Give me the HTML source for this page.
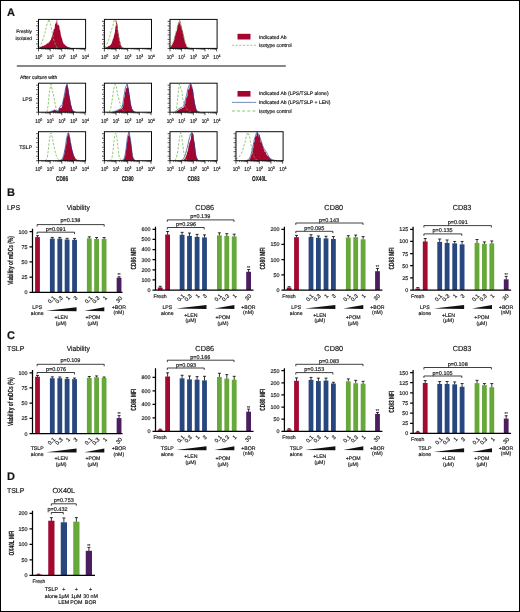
<!DOCTYPE html>
<html><head><meta charset="utf-8"><title>Figure</title>
<style>
html,body{margin:0;padding:0;background:#fff}
body{width:520px;height:612px;overflow:hidden;position:relative}
svg{position:absolute;left:0;top:0;display:block}
svg{will-change:transform;transform:translateZ(0)}
svg text{font-family:"Liberation Sans",Arial,Helvetica,sans-serif;fill:#141414;stroke:#141414;stroke-width:0.16px;text-rendering:geometricPrecision}
.frame{position:absolute;left:0;top:0;width:518px;height:610px;border:1px solid #000}
</style></head><body>
<svg width="520" height="612" viewBox="0 0 520 612">
<rect x="0" y="0" width="520" height="612" fill="#fff"/>
<path d="M38.5 48.4 L38.5 48.11 L38.92 47.87 L39.35 47.62 L39.77 47.46 L40.19 47.04 L40.62 46.8 L41.04 46.78 L41.47 46.53 L41.89 46.38 L42.31 46.11 L42.74 45.87 L43.16 46.08 L43.58 45.96 L44.01 45.3 L44.43 45.39 L44.85 44.99 L45.28 45.33 L45.7 44.71 L46.13 44.18 L46.55 44.35 L46.97 43.35 L47.4 43.08 L47.82 43.76 L48.24 43.51 L48.67 42.6 L49.09 41.78 L49.51 41.9 L49.94 41.32 L50.36 40.13 L50.79 40.07 L51.21 38.86 L51.63 37.14 L52.06 35.55 L52.48 34.93 L52.9 33.54 L53.33 32.06 L53.75 29.54 L54.17 28.81 L54.6 29.04 L55.02 23.98 L55.45 24.27 L55.87 22.3 L56.29 23.39 L56.72 19.8 L57.14 20.11 L57.56 25.24 L57.99 25.05 L58.41 24.3 L58.83 25.68 L59.26 25.99 L59.68 30.01 L60.11 30.26 L60.53 32.74 L60.95 35.86 L61.38 37.06 L61.8 37.98 L62.22 39.42 L62.65 41.31 L63.07 42.3 L63.49 43.57 L63.92 43.9 L64.34 43.96 L64.77 44.84 L65.19 45.33 L65.61 45.39 L66.04 45.63 L66.46 45.99 L66.88 46.46 L67.31 46.75 L67.73 46.89 L68.15 46.94 L68.58 47.14 L69 47.3 L69.43 47.4 L69.85 47.61 L70.27 47.65 L70.7 47.77 L71.12 47.9 L71.54 48.02 L71.97 48.07 L72.39 48.11 L72.81 48.15 L73.24 48.19 L73.66 48.23 L74.09 48.27 L74.51 48.31 L74.93 48.35 L75.36 48.39 L75.78 48.4 L76.2 48.4 L76.63 48.4 L77.05 48.4 L77.47 48.4 L77.9 48.4 L78.32 48.4 L78.75 48.4 L79.17 48.4 L79.59 48.4 L80.02 48.4 L80.44 48.4 L80.86 48.4 L81.29 48.4 L81.71 48.4 L82.13 48.4 L82.56 48.4 L82.98 48.4 L83.41 48.4 L83.83 48.4 L84.25 48.4 L84.68 48.4 L85.1 48.4 L85.6 48.4 Z" fill="#A50630"/>
<polyline points="38.5,47.53 38.92,47.13 39.35,46.66 39.77,46.32 40.19,45.84 40.62,45.51 41.04,44.71 41.47,43.37 41.89,42.45 42.31,41.12 42.74,40.03 43.16,38.87 43.58,37.67 44.01,36.41 44.43,34.26 44.85,33.24 45.28,31.47 45.7,30.04 46.13,28.05 46.55,26.16 46.97,23.84 47.4,23.42 47.82,22.68 48.24,21.3 48.67,19.5 49.09,20.92 49.51,20.87 49.94,22.12 50.36,23.16 50.79,25.7 51.21,27.32 51.63,29.64 52.06,31.57 52.48,33.46 52.9,35.82 53.33,38.18 53.75,40.05 54.17,40.89 54.6,42.33 55.02,43.66 55.45,44.68 55.87,45.56 56.29,46.34 56.72,47.15 57.14,48.1" fill="none" stroke="#74B94E" stroke-width="0.8" stroke-dasharray="2.4 1.5" stroke-linejoin="round"/>
<rect x="38.5" y="19.4" width="47.1" height="29" fill="none" stroke="#0a0a0a" stroke-width="1"/>
<path d="M38.5 48.4h-2.4M38.5 43.9h-2.4M38.5 39.4h-2.4M38.5 34.9h-2.4M38.5 30.4h-2.4M38.5 25.9h-2.4M38.5 21.4h-2.4M38.5 48.4v3M50.15 48.4v3M61.8 48.4v3M73.45 48.4v3M85.1 48.4v3" stroke="#0a0a0a" stroke-width="0.7" fill="none"/>
<path d="M38.5 46.15h-1.4M38.5 41.65h-1.4M38.5 37.15h-1.4M38.5 32.65h-1.4M38.5 28.15h-1.4M38.5 23.65h-1.4M42.01 48.4v1.4M44.06 48.4v1.4M45.51 48.4v1.4M46.64 48.4v1.4M47.57 48.4v1.4M48.35 48.4v1.4M49.02 48.4v1.4M49.62 48.4v1.4M53.66 48.4v1.4M55.71 48.4v1.4M57.16 48.4v1.4M58.29 48.4v1.4M59.22 48.4v1.4M60 48.4v1.4M60.67 48.4v1.4M61.27 48.4v1.4M65.31 48.4v1.4M67.36 48.4v1.4M68.81 48.4v1.4M69.94 48.4v1.4M70.87 48.4v1.4M71.65 48.4v1.4M72.32 48.4v1.4M72.92 48.4v1.4M76.96 48.4v1.4M79.01 48.4v1.4M80.46 48.4v1.4M81.59 48.4v1.4M82.52 48.4v1.4M83.3 48.4v1.4M83.97 48.4v1.4M84.57 48.4v1.4" stroke="#0a0a0a" stroke-width="0.5" fill="none"/>
<text x="35.2" y="58.8" font-size="5.5" stroke="#141414" stroke-width="0.32" textLength="5.3" lengthAdjust="spacingAndGlyphs">10</text>
<text x="40.3" y="56.8" font-size="3.8" stroke="#141414" stroke-width="0.25" textLength="2.0" lengthAdjust="spacingAndGlyphs">0</text>
<text x="46.85" y="58.8" font-size="5.5" stroke="#141414" stroke-width="0.32" textLength="5.3" lengthAdjust="spacingAndGlyphs">10</text>
<text x="51.95" y="56.8" font-size="3.8" stroke="#141414" stroke-width="0.25" textLength="2.0" lengthAdjust="spacingAndGlyphs">1</text>
<text x="58.5" y="58.8" font-size="5.5" stroke="#141414" stroke-width="0.32" textLength="5.3" lengthAdjust="spacingAndGlyphs">10</text>
<text x="63.6" y="56.8" font-size="3.8" stroke="#141414" stroke-width="0.25" textLength="2.0" lengthAdjust="spacingAndGlyphs">2</text>
<text x="70.15" y="58.8" font-size="5.5" stroke="#141414" stroke-width="0.32" textLength="5.3" lengthAdjust="spacingAndGlyphs">10</text>
<text x="75.25" y="56.8" font-size="3.8" stroke="#141414" stroke-width="0.25" textLength="2.0" lengthAdjust="spacingAndGlyphs">3</text>
<text x="81.8" y="58.8" font-size="5.5" stroke="#141414" stroke-width="0.32" textLength="5.3" lengthAdjust="spacingAndGlyphs">10</text>
<text x="86.9" y="56.8" font-size="3.8" stroke="#141414" stroke-width="0.25" textLength="2.0" lengthAdjust="spacingAndGlyphs">4</text>
<path d="M104.4 48.4 L104.4 48.11 L104.82 47.95 L105.25 47.78 L105.67 47.62 L106.09 47.36 L106.52 47.18 L106.94 47.23 L107.37 47.02 L107.79 46.52 L108.21 46.32 L108.64 46.11 L109.06 46.07 L109.48 45.68 L109.91 45.44 L110.33 45.12 L110.75 44.82 L111.18 43.95 L111.6 43.35 L112.03 42.29 L112.45 40.78 L112.87 39.27 L113.3 38.55 L113.72 36.89 L114.14 35.16 L114.57 33.81 L114.99 31.6 L115.41 27.29 L115.84 25.54 L116.26 22.76 L116.69 19.8 L117.11 23.16 L117.53 24.96 L117.96 29.21 L118.38 32.9 L118.8 34.58 L119.23 37.7 L119.65 39.49 L120.07 40.91 L120.5 43.31 L120.92 45.56 L121.35 45.81 L121.77 46.58 L122.19 47.31 L122.62 47.59 L123.04 47.67 L123.46 47.74 L123.89 47.81 L124.31 47.88 L124.73 47.95 L125.16 48.02 L125.58 48.09 L126.01 48.13 L126.43 48.16 L126.85 48.19 L127.28 48.22 L127.7 48.25 L128.12 48.28 L128.55 48.31 L128.97 48.34 L129.39 48.37 L129.82 48.4 L130.24 48.4 L130.67 48.4 L131.09 48.4 L131.51 48.4 L131.94 48.4 L132.36 48.4 L132.78 48.4 L133.21 48.4 L133.63 48.4 L134.05 48.4 L134.48 48.4 L134.9 48.4 L135.33 48.4 L135.75 48.4 L136.17 48.4 L136.6 48.4 L137.02 48.4 L137.44 48.4 L137.87 48.4 L138.29 48.4 L138.71 48.4 L139.14 48.4 L139.56 48.4 L139.99 48.4 L140.41 48.4 L140.83 48.4 L141.26 48.4 L141.68 48.4 L142.1 48.4 L142.53 48.4 L142.95 48.4 L143.37 48.4 L143.8 48.4 L144.22 48.4 L144.65 48.4 L145.07 48.4 L145.49 48.4 L145.92 48.4 L146.34 48.4 L146.76 48.4 L147.19 48.4 L147.61 48.4 L148.03 48.4 L148.46 48.4 L148.88 48.4 L149.31 48.4 L149.73 48.4 L150.15 48.4 L150.58 48.4 L151 48.4 L151.5 48.4 Z" fill="#A50630"/>
<polyline points="105.25,48.1 105.67,46.75 106.09,45.91 106.52,45.11 106.94,44.05 107.37,43.22 107.79,42 108.21,40.75 108.64,40.06 109.06,38.45 109.48,36.89 109.91,35.8 110.33,34.04 110.75,32.24 111.18,30.99 111.6,29.19 112.03,28.36 112.45,26.79 112.87,25.59 113.3,23.68 113.72,21.67 114.14,20.81 114.57,19.73 114.99,20.73 115.41,20.48 115.84,22.91 116.26,24.16 116.69,25.18 117.11,27.05 117.53,29.59 117.96,32.08 118.38,34.25 118.8,36.79 119.23,39.24 119.65,41.54 120.07,44.04 120.5,44.93 120.92,46 121.35,47.11 121.77,48.1" fill="none" stroke="#74B94E" stroke-width="0.8" stroke-dasharray="2.4 1.5" stroke-linejoin="round"/>
<rect x="104.4" y="19.4" width="47.1" height="29" fill="none" stroke="#0a0a0a" stroke-width="1"/>
<path d="M104.4 48.4h-2.4M104.4 43.9h-2.4M104.4 39.4h-2.4M104.4 34.9h-2.4M104.4 30.4h-2.4M104.4 25.9h-2.4M104.4 21.4h-2.4M104.4 48.4v3M116.05 48.4v3M127.7 48.4v3M139.35 48.4v3M151 48.4v3" stroke="#0a0a0a" stroke-width="0.7" fill="none"/>
<path d="M104.4 46.15h-1.4M104.4 41.65h-1.4M104.4 37.15h-1.4M104.4 32.65h-1.4M104.4 28.15h-1.4M104.4 23.65h-1.4M107.91 48.4v1.4M109.96 48.4v1.4M111.41 48.4v1.4M112.54 48.4v1.4M113.47 48.4v1.4M114.25 48.4v1.4M114.92 48.4v1.4M115.52 48.4v1.4M119.56 48.4v1.4M121.61 48.4v1.4M123.06 48.4v1.4M124.19 48.4v1.4M125.12 48.4v1.4M125.9 48.4v1.4M126.57 48.4v1.4M127.17 48.4v1.4M131.21 48.4v1.4M133.26 48.4v1.4M134.71 48.4v1.4M135.84 48.4v1.4M136.77 48.4v1.4M137.55 48.4v1.4M138.22 48.4v1.4M138.82 48.4v1.4M142.86 48.4v1.4M144.91 48.4v1.4M146.36 48.4v1.4M147.49 48.4v1.4M148.42 48.4v1.4M149.2 48.4v1.4M149.87 48.4v1.4M150.47 48.4v1.4" stroke="#0a0a0a" stroke-width="0.5" fill="none"/>
<text x="101.1" y="58.8" font-size="5.5" stroke="#141414" stroke-width="0.32" textLength="5.3" lengthAdjust="spacingAndGlyphs">10</text>
<text x="106.2" y="56.8" font-size="3.8" stroke="#141414" stroke-width="0.25" textLength="2.0" lengthAdjust="spacingAndGlyphs">0</text>
<text x="112.75" y="58.8" font-size="5.5" stroke="#141414" stroke-width="0.32" textLength="5.3" lengthAdjust="spacingAndGlyphs">10</text>
<text x="117.85" y="56.8" font-size="3.8" stroke="#141414" stroke-width="0.25" textLength="2.0" lengthAdjust="spacingAndGlyphs">1</text>
<text x="124.4" y="58.8" font-size="5.5" stroke="#141414" stroke-width="0.32" textLength="5.3" lengthAdjust="spacingAndGlyphs">10</text>
<text x="129.5" y="56.8" font-size="3.8" stroke="#141414" stroke-width="0.25" textLength="2.0" lengthAdjust="spacingAndGlyphs">2</text>
<text x="136.05" y="58.8" font-size="5.5" stroke="#141414" stroke-width="0.32" textLength="5.3" lengthAdjust="spacingAndGlyphs">10</text>
<text x="141.15" y="56.8" font-size="3.8" stroke="#141414" stroke-width="0.25" textLength="2.0" lengthAdjust="spacingAndGlyphs">3</text>
<text x="147.7" y="58.8" font-size="5.5" stroke="#141414" stroke-width="0.32" textLength="5.3" lengthAdjust="spacingAndGlyphs">10</text>
<text x="152.8" y="56.8" font-size="3.8" stroke="#141414" stroke-width="0.25" textLength="2.0" lengthAdjust="spacingAndGlyphs">4</text>
<path d="M170 48.4 L170 47.83 L170.42 47.32 L170.85 46.66 L171.27 46.17 L171.69 45.3 L172.12 44.47 L172.54 44.23 L172.97 43.57 L173.39 41.7 L173.81 41.1 L174.24 39.76 L174.66 36.59 L175.08 36.32 L175.51 33.61 L175.93 33.1 L176.35 30.89 L176.78 31.24 L177.2 27.67 L177.63 24.97 L178.05 25.06 L178.47 22.38 L178.9 21.71 L179.32 24.23 L179.74 19.8 L180.17 21.42 L180.59 24.6 L181.01 27.47 L181.44 25.26 L181.86 29.01 L182.29 29.97 L182.71 31.31 L183.13 33.73 L183.56 35.03 L183.98 38.18 L184.4 39.1 L184.83 41.51 L185.25 42.66 L185.67 43.86 L186.1 45.37 L186.52 46.13 L186.95 46.89 L187.37 46.99 L187.79 47.45 L188.22 47.76 L188.64 48.09 L189.06 48.15 L189.49 48.19 L189.91 48.23 L190.33 48.27 L190.76 48.31 L191.18 48.36 L191.61 48.4 L192.03 48.4 L192.45 48.4 L192.88 48.4 L193.3 48.4 L193.72 48.4 L194.15 48.4 L194.57 48.4 L194.99 48.4 L195.42 48.4 L195.84 48.4 L196.27 48.4 L196.69 48.4 L197.11 48.4 L197.54 48.4 L197.96 48.4 L198.38 48.4 L198.81 48.4 L199.23 48.4 L199.65 48.4 L200.08 48.4 L200.5 48.4 L200.93 48.4 L201.35 48.4 L201.77 48.4 L202.2 48.4 L202.62 48.4 L203.04 48.4 L203.47 48.4 L203.89 48.4 L204.31 48.4 L204.74 48.4 L205.16 48.4 L205.59 48.4 L206.01 48.4 L206.43 48.4 L206.86 48.4 L207.28 48.4 L207.7 48.4 L208.13 48.4 L208.55 48.4 L208.97 48.4 L209.4 48.4 L209.82 48.4 L210.25 48.4 L210.67 48.4 L211.09 48.4 L211.52 48.4 L211.94 48.4 L212.36 48.4 L212.79 48.4 L213.21 48.4 L213.63 48.4 L214.06 48.4 L214.48 48.4 L214.91 48.4 L215.33 48.4 L215.75 48.4 L216.18 48.4 L216.6 48.4 L217.1 48.4 Z" fill="#A50630"/>
<polyline points="170,47.09 170.42,46.53 170.85,45.94 171.27,45.42 171.69,44.58 172.12,43.77 172.54,43.01 172.97,42.39 173.39,41.43 173.81,40.05 174.24,38.64 174.66,36.72 175.08,35.14 175.51,34.29 175.93,31.95 176.35,30.57 176.78,29.21 177.2,27.8 177.63,25.76 178.05,24.51 178.47,22.69 178.9,21.7 179.32,21.53 179.74,19.5 180.17,20.44 180.59,22.07 181.01,24.18 181.44,26.85 181.86,28.76 182.29,30.48 182.71,31.46 183.13,33.84 183.56,35.54 183.98,36.95 184.4,39.05 184.83,40.67 185.25,42.45 185.67,43.6 186.1,44.32 186.52,45.14 186.95,46.11 187.37,46.42 187.79,46.72 188.22,47.06 188.64,47.36 189.06,47.42 189.49,47.46 189.91,47.5 190.33,47.54 190.76,47.59 191.18,47.63 191.61,47.67 192.03,48.1" fill="none" stroke="#74B94E" stroke-width="0.8" stroke-dasharray="2.4 1.5" stroke-linejoin="round"/>
<rect x="170" y="19.4" width="47.1" height="29" fill="none" stroke="#0a0a0a" stroke-width="1"/>
<path d="M170 48.4h-2.4M170 43.9h-2.4M170 39.4h-2.4M170 34.9h-2.4M170 30.4h-2.4M170 25.9h-2.4M170 21.4h-2.4M170 48.4v3M181.65 48.4v3M193.3 48.4v3M204.95 48.4v3M216.6 48.4v3" stroke="#0a0a0a" stroke-width="0.7" fill="none"/>
<path d="M170 46.15h-1.4M170 41.65h-1.4M170 37.15h-1.4M170 32.65h-1.4M170 28.15h-1.4M170 23.65h-1.4M173.51 48.4v1.4M175.56 48.4v1.4M177.01 48.4v1.4M178.14 48.4v1.4M179.07 48.4v1.4M179.85 48.4v1.4M180.52 48.4v1.4M181.12 48.4v1.4M185.16 48.4v1.4M187.21 48.4v1.4M188.66 48.4v1.4M189.79 48.4v1.4M190.72 48.4v1.4M191.5 48.4v1.4M192.17 48.4v1.4M192.77 48.4v1.4M196.81 48.4v1.4M198.86 48.4v1.4M200.31 48.4v1.4M201.44 48.4v1.4M202.37 48.4v1.4M203.15 48.4v1.4M203.82 48.4v1.4M204.42 48.4v1.4M208.46 48.4v1.4M210.51 48.4v1.4M211.96 48.4v1.4M213.09 48.4v1.4M214.02 48.4v1.4M214.8 48.4v1.4M215.47 48.4v1.4M216.07 48.4v1.4" stroke="#0a0a0a" stroke-width="0.5" fill="none"/>
<text x="166.7" y="58.8" font-size="5.5" stroke="#141414" stroke-width="0.32" textLength="5.3" lengthAdjust="spacingAndGlyphs">10</text>
<text x="171.8" y="56.8" font-size="3.8" stroke="#141414" stroke-width="0.25" textLength="2.0" lengthAdjust="spacingAndGlyphs">0</text>
<text x="178.35" y="58.8" font-size="5.5" stroke="#141414" stroke-width="0.32" textLength="5.3" lengthAdjust="spacingAndGlyphs">10</text>
<text x="183.45" y="56.8" font-size="3.8" stroke="#141414" stroke-width="0.25" textLength="2.0" lengthAdjust="spacingAndGlyphs">1</text>
<text x="190" y="58.8" font-size="5.5" stroke="#141414" stroke-width="0.32" textLength="5.3" lengthAdjust="spacingAndGlyphs">10</text>
<text x="195.1" y="56.8" font-size="3.8" stroke="#141414" stroke-width="0.25" textLength="2.0" lengthAdjust="spacingAndGlyphs">2</text>
<text x="201.65" y="58.8" font-size="5.5" stroke="#141414" stroke-width="0.32" textLength="5.3" lengthAdjust="spacingAndGlyphs">10</text>
<text x="206.75" y="56.8" font-size="3.8" stroke="#141414" stroke-width="0.25" textLength="2.0" lengthAdjust="spacingAndGlyphs">3</text>
<text x="213.3" y="58.8" font-size="5.5" stroke="#141414" stroke-width="0.32" textLength="5.3" lengthAdjust="spacingAndGlyphs">10</text>
<text x="218.4" y="56.8" font-size="3.8" stroke="#141414" stroke-width="0.25" textLength="2.0" lengthAdjust="spacingAndGlyphs">4</text>
<path d="M38.5 112.2 L38.5 112.2 L38.92 112.2 L39.35 112.2 L39.77 112.2 L40.19 112.2 L40.62 112.2 L41.04 112.2 L41.47 112.2 L41.89 112.2 L42.31 112.2 L42.74 112.2 L43.16 112.2 L43.58 112.2 L44.01 112.2 L44.43 112.2 L44.85 112.2 L45.28 112.2 L45.7 112.2 L46.13 112.2 L46.55 112.2 L46.97 112.2 L47.4 112.2 L47.82 112.2 L48.24 112.2 L48.67 112.2 L49.09 112.2 L49.51 112.2 L49.94 112.2 L50.36 112.07 L50.79 111.87 L51.21 111.68 L51.63 111.48 L52.06 111.33 L52.48 111.18 L52.9 110.92 L53.33 110.81 L53.75 110.67 L54.17 110.37 L54.6 109.95 L55.02 110.08 L55.45 110.3 L55.87 110.69 L56.29 110.76 L56.72 111.02 L57.14 111.14 L57.56 111.25 L57.99 111.31 L58.41 111.15 L58.83 109.91 L59.26 108.66 L59.68 107.85 L60.11 108.21 L60.53 107.92 L60.95 107.59 L61.38 107.71 L61.8 107.83 L62.22 105.91 L62.65 104.8 L63.07 101.77 L63.49 99.62 L63.92 98.13 L64.34 97.22 L64.77 93.91 L65.19 93.39 L65.61 87.14 L66.04 85.53 L66.46 85.43 L66.88 85.28 L67.31 83.6 L67.73 87.26 L68.15 87.55 L68.58 90.13 L69 93.94 L69.43 96.55 L69.85 98.23 L70.27 100.98 L70.7 103.76 L71.12 105.4 L71.54 106.31 L71.97 108.68 L72.39 109.87 L72.81 110.17 L73.24 110.89 L73.66 111.37 L74.09 111.55 L74.51 111.73 L74.93 111.91 L75.36 112.09 L75.78 112.2 L76.2 112.2 L76.63 112.2 L77.05 112.2 L77.47 112.2 L77.9 112.2 L78.32 112.2 L78.75 112.2 L79.17 112.2 L79.59 112.2 L80.02 112.2 L80.44 112.2 L80.86 112.2 L81.29 112.2 L81.71 112.2 L82.13 112.2 L82.56 112.2 L82.98 112.2 L83.41 112.2 L83.83 112.2 L84.25 112.2 L84.68 112.2 L85.1 112.2 L85.6 112.2 Z" fill="#A50630"/>
<polyline points="49.51,112 49.94,111.98 50.36,111.79 50.79,111.59 51.21,111.39 51.63,111.19 52.06,111.01 52.48,110.82 52.9,110.6 53.33,110.46 53.75,110.23 54.17,110.07 54.6,109.96 55.02,110.09 55.45,110.33 55.87,110.47 56.29,110.69 56.72,110.83 57.14,110.91 57.56,110.98 57.99,111.11 58.41,110.58 58.83,109.36 59.26,108.1 59.68,107.42 60.11,106.8 60.53,105.92 60.95,106.16 61.38,105.86 61.8,105.82 62.22,104.53 62.65,103.14 63.07,101.14 63.49,98.84 63.92,97.44 64.34,94.86 64.77,92.5 65.19,90.55 65.61,88.43 66.04,87.56 66.46,86.01 66.88,84.36 67.31,86.04 67.73,88.88 68.15,91.33 68.58,93.28 69,95.7 69.43,98.1 69.85,100 70.27,102.37 70.7,104.73 71.12,106.18 71.54,107.8 71.97,109.25 72.39,109.89 72.81,110.54 73.24,111.1 73.66,111.32 74.09,111.5 74.51,111.68 74.93,111.86 75.36,112 75.78,112" fill="none" stroke="#1D3A8E" stroke-width="0.7" stroke-linejoin="round"/>
<polyline points="46.55,111.9 46.97,111.47 47.4,109.34 47.82,107.18 48.24,104.46 48.67,100.15 49.09,95.85 49.51,92.23 49.94,89.25 50.36,86.47 50.79,84.3 51.21,84.33 51.63,87.4 52.06,89.34 52.48,92.37 52.9,92.28 53.33,94.02 53.75,97.1 54.17,98.47 54.6,100.7 55.02,103.07 55.45,105.03 55.87,107.11 56.29,108.81 56.72,109.51 57.14,110.36 57.56,111.11 57.99,111.9" fill="none" stroke="#74B94E" stroke-width="0.8" stroke-dasharray="2.4 1.5" stroke-linejoin="round"/>
<rect x="38.5" y="83.2" width="47.1" height="29" fill="none" stroke="#0a0a0a" stroke-width="1"/>
<path d="M38.5 112.2h-2.4M38.5 107.7h-2.4M38.5 103.2h-2.4M38.5 98.7h-2.4M38.5 94.2h-2.4M38.5 89.7h-2.4M38.5 85.2h-2.4M38.5 112.2v3M50.15 112.2v3M61.8 112.2v3M73.45 112.2v3M85.1 112.2v3" stroke="#0a0a0a" stroke-width="0.7" fill="none"/>
<path d="M38.5 109.95h-1.4M38.5 105.45h-1.4M38.5 100.95h-1.4M38.5 96.45h-1.4M38.5 91.95h-1.4M38.5 87.45h-1.4M42.01 112.2v1.4M44.06 112.2v1.4M45.51 112.2v1.4M46.64 112.2v1.4M47.57 112.2v1.4M48.35 112.2v1.4M49.02 112.2v1.4M49.62 112.2v1.4M53.66 112.2v1.4M55.71 112.2v1.4M57.16 112.2v1.4M58.29 112.2v1.4M59.22 112.2v1.4M60 112.2v1.4M60.67 112.2v1.4M61.27 112.2v1.4M65.31 112.2v1.4M67.36 112.2v1.4M68.81 112.2v1.4M69.94 112.2v1.4M70.87 112.2v1.4M71.65 112.2v1.4M72.32 112.2v1.4M72.92 112.2v1.4M76.96 112.2v1.4M79.01 112.2v1.4M80.46 112.2v1.4M81.59 112.2v1.4M82.52 112.2v1.4M83.3 112.2v1.4M83.97 112.2v1.4M84.57 112.2v1.4" stroke="#0a0a0a" stroke-width="0.5" fill="none"/>
<text x="35.2" y="122.6" font-size="5.5" stroke="#141414" stroke-width="0.32" textLength="5.3" lengthAdjust="spacingAndGlyphs">10</text>
<text x="40.3" y="120.6" font-size="3.8" stroke="#141414" stroke-width="0.25" textLength="2.0" lengthAdjust="spacingAndGlyphs">0</text>
<text x="46.85" y="122.6" font-size="5.5" stroke="#141414" stroke-width="0.32" textLength="5.3" lengthAdjust="spacingAndGlyphs">10</text>
<text x="51.95" y="120.6" font-size="3.8" stroke="#141414" stroke-width="0.25" textLength="2.0" lengthAdjust="spacingAndGlyphs">1</text>
<text x="58.5" y="122.6" font-size="5.5" stroke="#141414" stroke-width="0.32" textLength="5.3" lengthAdjust="spacingAndGlyphs">10</text>
<text x="63.6" y="120.6" font-size="3.8" stroke="#141414" stroke-width="0.25" textLength="2.0" lengthAdjust="spacingAndGlyphs">2</text>
<text x="70.15" y="122.6" font-size="5.5" stroke="#141414" stroke-width="0.32" textLength="5.3" lengthAdjust="spacingAndGlyphs">10</text>
<text x="75.25" y="120.6" font-size="3.8" stroke="#141414" stroke-width="0.25" textLength="2.0" lengthAdjust="spacingAndGlyphs">3</text>
<text x="81.8" y="122.6" font-size="5.5" stroke="#141414" stroke-width="0.32" textLength="5.3" lengthAdjust="spacingAndGlyphs">10</text>
<text x="86.9" y="120.6" font-size="3.8" stroke="#141414" stroke-width="0.25" textLength="2.0" lengthAdjust="spacingAndGlyphs">4</text>
<path d="M104.4 112.2 L104.4 112.2 L104.82 112.2 L105.25 112.2 L105.67 112.2 L106.09 112.2 L106.52 112.2 L106.94 112.2 L107.37 112.2 L107.79 112.2 L108.21 112.2 L108.64 112.2 L109.06 112.2 L109.48 112.2 L109.91 112.2 L110.33 112.2 L110.75 112.2 L111.18 112.2 L111.6 112.2 L112.03 112.2 L112.45 112.2 L112.87 112.2 L113.3 112.19 L113.72 112.03 L114.14 111.87 L114.57 111.73 L114.99 111.58 L115.41 111.44 L115.84 111.27 L116.26 111.09 L116.69 110.93 L117.11 110.68 L117.53 110.53 L117.96 110.25 L118.38 110.42 L118.8 110.03 L119.23 109.58 L119.65 109.53 L120.07 109.19 L120.5 109.51 L120.92 109.1 L121.35 109.08 L121.77 108.4 L122.19 107.81 L122.62 107.85 L123.04 106.32 L123.46 104.07 L123.89 100.19 L124.31 97.44 L124.73 96.58 L125.16 91.59 L125.58 92.29 L126.01 87.67 L126.43 88.58 L126.85 88.12 L127.28 83.6 L127.7 87.45 L128.12 88.94 L128.55 86.97 L128.97 90.24 L129.39 95.24 L129.82 95.7 L130.24 100.26 L130.67 103.06 L131.09 105.74 L131.51 106.69 L131.94 108.78 L132.36 109.24 L132.78 109.94 L133.21 110.78 L133.63 111.34 L134.05 111.51 L134.48 111.69 L134.9 111.88 L135.33 112.06 L135.75 112.2 L136.17 112.2 L136.6 112.2 L137.02 112.2 L137.44 112.2 L137.87 112.2 L138.29 112.2 L138.71 112.2 L139.14 112.2 L139.56 112.2 L139.99 112.2 L140.41 112.2 L140.83 112.2 L141.26 112.2 L141.68 112.2 L142.1 112.2 L142.53 112.2 L142.95 112.2 L143.37 112.2 L143.8 112.2 L144.22 112.2 L144.65 112.2 L145.07 112.2 L145.49 112.2 L145.92 112.2 L146.34 112.2 L146.76 112.2 L147.19 112.2 L147.61 112.2 L148.03 112.2 L148.46 112.2 L148.88 112.2 L149.31 112.2 L149.73 112.2 L150.15 112.2 L150.58 112.2 L151 112.2 L151.5 112.2 Z" fill="#A50630"/>
<polyline points="112.45,112 112.87,111.93 113.3,111.77 113.72,111.62 114.14,111.47 114.57,111.33 114.99,111.19 115.41,111.06 115.84,110.87 116.26,110.77 116.69,110.53 117.11,110.38 117.53,110.17 117.96,109.88 118.38,109.78 118.8,109.51 119.23,109.36 119.65,109.18 120.07,108.99 120.5,108.87 120.92,108.51 121.35,108.12 121.77,107.55 122.19,107.07 122.62,104.97 123.04,102.65 123.46,99.61 123.89,97.06 124.31,94.5 124.73,92.09 125.16,88.85 125.58,87.88 126.01,86 126.43,85.55 126.85,84.25 127.28,84.28 127.7,86.07 128.12,88.76 128.55,91.08 128.97,93.34 129.39,96.39 129.82,99.88 130.24,102.99 130.67,104.56 131.09,106.65 131.51,108.6 131.94,109.14 132.36,109.8 132.78,110.39 133.21,110.99 133.63,111.28 134.05,111.46 134.48,111.64 134.9,111.82 135.33,112 135.75,112" fill="none" stroke="#1D3A8E" stroke-width="0.7" stroke-linejoin="round"/>
<polyline points="109.06,111.9 109.48,111.71 109.91,110.6 110.33,109.47 110.75,108.14 111.18,105.82 111.6,103.44 112.03,100.63 112.45,97.87 112.87,94.5 113.3,91.88 113.72,89.51 114.14,87.1 114.57,84.98 114.99,84.83 115.41,84.3 115.84,85.97 116.26,86.06 116.69,89.56 117.11,90.9 117.53,94.01 117.96,95.57 118.38,97.66 118.8,99.01 119.23,100.12 119.65,102.04 120.07,103.33 120.5,104.26 120.92,105.72 121.35,107.1 121.77,108.13 122.19,109 122.62,109.83 123.04,110.48 123.46,110.85 123.89,111.05 124.31,111.25 124.73,111.47 125.16,111.9 125.58,111.9" fill="none" stroke="#74B94E" stroke-width="0.8" stroke-dasharray="2.4 1.5" stroke-linejoin="round"/>
<rect x="104.4" y="83.2" width="47.1" height="29" fill="none" stroke="#0a0a0a" stroke-width="1"/>
<path d="M104.4 112.2h-2.4M104.4 107.7h-2.4M104.4 103.2h-2.4M104.4 98.7h-2.4M104.4 94.2h-2.4M104.4 89.7h-2.4M104.4 85.2h-2.4M104.4 112.2v3M116.05 112.2v3M127.7 112.2v3M139.35 112.2v3M151 112.2v3" stroke="#0a0a0a" stroke-width="0.7" fill="none"/>
<path d="M104.4 109.95h-1.4M104.4 105.45h-1.4M104.4 100.95h-1.4M104.4 96.45h-1.4M104.4 91.95h-1.4M104.4 87.45h-1.4M107.91 112.2v1.4M109.96 112.2v1.4M111.41 112.2v1.4M112.54 112.2v1.4M113.47 112.2v1.4M114.25 112.2v1.4M114.92 112.2v1.4M115.52 112.2v1.4M119.56 112.2v1.4M121.61 112.2v1.4M123.06 112.2v1.4M124.19 112.2v1.4M125.12 112.2v1.4M125.9 112.2v1.4M126.57 112.2v1.4M127.17 112.2v1.4M131.21 112.2v1.4M133.26 112.2v1.4M134.71 112.2v1.4M135.84 112.2v1.4M136.77 112.2v1.4M137.55 112.2v1.4M138.22 112.2v1.4M138.82 112.2v1.4M142.86 112.2v1.4M144.91 112.2v1.4M146.36 112.2v1.4M147.49 112.2v1.4M148.42 112.2v1.4M149.2 112.2v1.4M149.87 112.2v1.4M150.47 112.2v1.4" stroke="#0a0a0a" stroke-width="0.5" fill="none"/>
<text x="101.1" y="122.6" font-size="5.5" stroke="#141414" stroke-width="0.32" textLength="5.3" lengthAdjust="spacingAndGlyphs">10</text>
<text x="106.2" y="120.6" font-size="3.8" stroke="#141414" stroke-width="0.25" textLength="2.0" lengthAdjust="spacingAndGlyphs">0</text>
<text x="112.75" y="122.6" font-size="5.5" stroke="#141414" stroke-width="0.32" textLength="5.3" lengthAdjust="spacingAndGlyphs">10</text>
<text x="117.85" y="120.6" font-size="3.8" stroke="#141414" stroke-width="0.25" textLength="2.0" lengthAdjust="spacingAndGlyphs">1</text>
<text x="124.4" y="122.6" font-size="5.5" stroke="#141414" stroke-width="0.32" textLength="5.3" lengthAdjust="spacingAndGlyphs">10</text>
<text x="129.5" y="120.6" font-size="3.8" stroke="#141414" stroke-width="0.25" textLength="2.0" lengthAdjust="spacingAndGlyphs">2</text>
<text x="136.05" y="122.6" font-size="5.5" stroke="#141414" stroke-width="0.32" textLength="5.3" lengthAdjust="spacingAndGlyphs">10</text>
<text x="141.15" y="120.6" font-size="3.8" stroke="#141414" stroke-width="0.25" textLength="2.0" lengthAdjust="spacingAndGlyphs">3</text>
<text x="147.7" y="122.6" font-size="5.5" stroke="#141414" stroke-width="0.32" textLength="5.3" lengthAdjust="spacingAndGlyphs">10</text>
<text x="152.8" y="120.6" font-size="3.8" stroke="#141414" stroke-width="0.25" textLength="2.0" lengthAdjust="spacingAndGlyphs">4</text>
<path d="M170 112.2 L170 112.2 L170.42 112.2 L170.85 112.2 L171.27 112.2 L171.69 112.2 L172.12 112.2 L172.54 112.2 L172.97 112.2 L173.39 112.2 L173.81 112.2 L174.24 112.2 L174.66 112.2 L175.08 112.2 L175.51 112.2 L175.93 112.04 L176.35 111.74 L176.78 111.36 L177.2 110.91 L177.63 110.5 L178.05 110.24 L178.47 110.06 L178.9 109.97 L179.32 109.36 L179.74 109.24 L180.17 108.8 L180.59 108.89 L181.01 108.44 L181.44 108.7 L181.86 108.13 L182.29 108.05 L182.71 108.07 L183.13 107.63 L183.56 107.16 L183.98 107 L184.4 105.55 L184.83 104.12 L185.25 103.89 L185.67 101.04 L186.1 99.55 L186.52 97.31 L186.95 97.1 L187.37 96.27 L187.79 91.59 L188.22 89.58 L188.64 89.39 L189.06 89.45 L189.49 87.67 L189.91 84.19 L190.33 85.38 L190.76 83.6 L191.18 84.63 L191.61 87.53 L192.03 86.34 L192.45 89.45 L192.88 88.74 L193.3 91.83 L193.72 96.19 L194.15 98.51 L194.57 101.13 L194.99 103.73 L195.42 105.49 L195.84 108.1 L196.27 109.21 L196.69 110.21 L197.11 110.78 L197.54 111.16 L197.96 111.65 L198.38 111.94 L198.81 112.01 L199.23 112.08 L199.65 112.15 L200.08 112.2 L200.5 112.2 L200.93 112.2 L201.35 112.2 L201.77 112.2 L202.2 112.2 L202.62 112.2 L203.04 112.2 L203.47 112.2 L203.89 112.2 L204.31 112.2 L204.74 112.2 L205.16 112.2 L205.59 112.2 L206.01 112.2 L206.43 112.2 L206.86 112.2 L207.28 112.2 L207.7 112.2 L208.13 112.2 L208.55 112.2 L208.97 112.2 L209.4 112.2 L209.82 112.2 L210.25 112.2 L210.67 112.2 L211.09 112.2 L211.52 112.2 L211.94 112.2 L212.36 112.2 L212.79 112.2 L213.21 112.2 L213.63 112.2 L214.06 112.2 L214.48 112.2 L214.91 112.2 L215.33 112.2 L215.75 112.2 L216.18 112.2 L216.6 112.2 L217.1 112.2 Z" fill="#A50630"/>
<polyline points="174.66,112 175.08,111.99 175.51,111.75 175.93,111.3 176.35,110.81 176.78,110.32 177.2,109.86 177.63,109.26 178.05,109.16 178.47,108.84 178.9,108.52 179.32,108.45 179.74,108.11 180.17,107.94 180.59,107.95 181.01,107.73 181.44,107.51 181.86,107.44 182.29,107.03 182.71,106.89 183.13,106.55 183.56,105.63 183.98,104.47 184.4,103.26 184.83,101.98 185.25,100.14 185.67,98.74 186.1,96.68 186.52,95.48 186.95,93.48 187.37,91.2 187.79,89.22 188.22,87.75 188.64,86.39 189.06,85.52 189.49,85.06 189.91,84.4 190.33,83.4 190.76,84.68 191.18,84.45 191.61,86 192.03,88.75 192.45,90.44 192.88,93.02 193.3,96.21 193.72,98.48 194.15,100.82 194.57,103.95 194.99,105.47 195.42,107.11 195.84,108.48 196.27,109.53 196.69,110.23 197.11,110.85 197.54,111.42 197.96,111.75 198.38,111.82 198.81,111.88 199.23,111.95 199.65,112 200.08,112" fill="none" stroke="#1D3A8E" stroke-width="0.7" stroke-linejoin="round"/>
<polyline points="175.08,111.9 175.51,111.9 175.93,110.56 176.35,108.8 176.78,107.08 177.2,103.28 177.63,99.44 178.05,94.8 178.47,90.14 178.9,87.36 179.32,84.01 179.74,85.29 180.17,85.39 180.59,87.7 181.01,89.62 181.44,90.39 181.86,90.84 182.29,94.95 182.71,98.3 183.13,100.05 183.56,102.06 183.98,103.28 184.4,104.82 184.83,105.66 185.25,106.5 185.67,107.36 186.1,108.16 186.52,108.77 186.95,109.28 187.37,109.62 187.79,110.09 188.22,110.48 188.64,110.92 189.06,111.18 189.49,111.38 189.91,111.57 190.33,111.77 190.76,111.9 191.18,111.9" fill="none" stroke="#74B94E" stroke-width="0.8" stroke-dasharray="2.4 1.5" stroke-linejoin="round"/>
<rect x="170" y="83.2" width="47.1" height="29" fill="none" stroke="#0a0a0a" stroke-width="1"/>
<path d="M170 112.2h-2.4M170 107.7h-2.4M170 103.2h-2.4M170 98.7h-2.4M170 94.2h-2.4M170 89.7h-2.4M170 85.2h-2.4M170 112.2v3M181.65 112.2v3M193.3 112.2v3M204.95 112.2v3M216.6 112.2v3" stroke="#0a0a0a" stroke-width="0.7" fill="none"/>
<path d="M170 109.95h-1.4M170 105.45h-1.4M170 100.95h-1.4M170 96.45h-1.4M170 91.95h-1.4M170 87.45h-1.4M173.51 112.2v1.4M175.56 112.2v1.4M177.01 112.2v1.4M178.14 112.2v1.4M179.07 112.2v1.4M179.85 112.2v1.4M180.52 112.2v1.4M181.12 112.2v1.4M185.16 112.2v1.4M187.21 112.2v1.4M188.66 112.2v1.4M189.79 112.2v1.4M190.72 112.2v1.4M191.5 112.2v1.4M192.17 112.2v1.4M192.77 112.2v1.4M196.81 112.2v1.4M198.86 112.2v1.4M200.31 112.2v1.4M201.44 112.2v1.4M202.37 112.2v1.4M203.15 112.2v1.4M203.82 112.2v1.4M204.42 112.2v1.4M208.46 112.2v1.4M210.51 112.2v1.4M211.96 112.2v1.4M213.09 112.2v1.4M214.02 112.2v1.4M214.8 112.2v1.4M215.47 112.2v1.4M216.07 112.2v1.4" stroke="#0a0a0a" stroke-width="0.5" fill="none"/>
<text x="166.7" y="122.6" font-size="5.5" stroke="#141414" stroke-width="0.32" textLength="5.3" lengthAdjust="spacingAndGlyphs">10</text>
<text x="171.8" y="120.6" font-size="3.8" stroke="#141414" stroke-width="0.25" textLength="2.0" lengthAdjust="spacingAndGlyphs">0</text>
<text x="178.35" y="122.6" font-size="5.5" stroke="#141414" stroke-width="0.32" textLength="5.3" lengthAdjust="spacingAndGlyphs">10</text>
<text x="183.45" y="120.6" font-size="3.8" stroke="#141414" stroke-width="0.25" textLength="2.0" lengthAdjust="spacingAndGlyphs">1</text>
<text x="190" y="122.6" font-size="5.5" stroke="#141414" stroke-width="0.32" textLength="5.3" lengthAdjust="spacingAndGlyphs">10</text>
<text x="195.1" y="120.6" font-size="3.8" stroke="#141414" stroke-width="0.25" textLength="2.0" lengthAdjust="spacingAndGlyphs">2</text>
<text x="201.65" y="122.6" font-size="5.5" stroke="#141414" stroke-width="0.32" textLength="5.3" lengthAdjust="spacingAndGlyphs">10</text>
<text x="206.75" y="120.6" font-size="3.8" stroke="#141414" stroke-width="0.25" textLength="2.0" lengthAdjust="spacingAndGlyphs">3</text>
<text x="213.3" y="122.6" font-size="5.5" stroke="#141414" stroke-width="0.32" textLength="5.3" lengthAdjust="spacingAndGlyphs">10</text>
<text x="218.4" y="120.6" font-size="3.8" stroke="#141414" stroke-width="0.25" textLength="2.0" lengthAdjust="spacingAndGlyphs">4</text>
<path d="M38.5 160.7 L38.5 160.7 L38.92 160.7 L39.35 160.7 L39.77 160.7 L40.19 160.7 L40.62 160.7 L41.04 160.7 L41.47 160.7 L41.89 160.7 L42.31 160.7 L42.74 160.7 L43.16 160.7 L43.58 160.7 L44.01 160.7 L44.43 160.7 L44.85 160.7 L45.28 160.7 L45.7 160.7 L46.13 160.7 L46.55 160.7 L46.97 160.7 L47.4 160.7 L47.82 160.7 L48.24 160.7 L48.67 160.7 L49.09 160.7 L49.51 160.7 L49.94 160.7 L50.36 160.7 L50.79 160.7 L51.21 160.7 L51.63 160.7 L52.06 160.7 L52.48 160.7 L52.9 160.7 L53.33 160.7 L53.75 160.7 L54.17 160.7 L54.6 160.7 L55.02 160.7 L55.45 160.7 L55.87 160.7 L56.29 160.7 L56.72 160.7 L57.14 160.7 L57.56 160.7 L57.99 160.7 L58.41 160.7 L58.83 160.7 L59.26 160.7 L59.68 160.7 L60.11 160.7 L60.53 160.53 L60.95 160.3 L61.38 160.02 L61.8 159.77 L62.22 159.55 L62.65 159.12 L63.07 158.33 L63.49 156.67 L63.92 155.49 L64.34 154.16 L64.77 151.12 L65.19 150.02 L65.61 146.54 L66.04 145.16 L66.46 142.53 L66.88 138.57 L67.31 134.65 L67.73 136.75 L68.15 135.42 L68.58 132.81 L69 132.3 L69.43 135.71 L69.85 138.05 L70.27 137.54 L70.7 143.81 L71.12 142.67 L71.54 146.67 L71.97 148.98 L72.39 150.77 L72.81 152.07 L73.24 153.02 L73.66 155.31 L74.09 155.98 L74.51 157.12 L74.93 158.15 L75.36 158.56 L75.78 159.25 L76.2 159.64 L76.63 159.82 L77.05 159.99 L77.47 160.22 L77.9 160.42 L78.32 160.48 L78.75 160.54 L79.17 160.6 L79.59 160.66 L80.02 160.7 L80.44 160.7 L80.86 160.7 L81.29 160.7 L81.71 160.7 L82.13 160.7 L82.56 160.7 L82.98 160.7 L83.41 160.7 L83.83 160.7 L84.25 160.7 L84.68 160.7 L85.1 160.7 L85.6 160.7 Z" fill="#A50630"/>
<polyline points="59.68,160.5 60.11,160.5 60.53,160.33 60.95,160.02 61.38,159.55 61.8,159.1 62.22,158.62 62.65,158.2 63.07,156.96 63.49,155.55 63.92,154.22 64.34,152.56 64.77,150.06 65.19,147.89 65.61,145.51 66.04,141.98 66.46,139.05 66.88,137.77 67.31,134.79 67.73,133.37 68.15,132.92 68.58,133.28 69,136.05 69.43,138.57 69.85,140.5 70.27,142.61 70.7,145.12 71.12,146.56 71.54,148.32 71.97,150.22 72.39,152.27 72.81,153.94 73.24,155.08 73.66,156.17 74.09,156.89 74.51,157.53 74.93,158.02 75.36,158.45 75.78,158.95 76.2,159.37 76.63,159.82 77.05,160.22 77.47,160.28 77.9,160.34 78.32,160.39 78.75,160.45 79.17,160.5 79.59,160.5" fill="none" stroke="#1D3A8E" stroke-width="0.7" stroke-linejoin="round"/>
<polyline points="45.28,160.4 45.7,160.27 46.13,159.69 46.55,159.14 46.97,158.51 47.4,157.02 47.82,153.9 48.24,150.85 48.67,146.65 49.09,142.21 49.51,139.15 49.94,136.53 50.36,134.17 50.79,133.06 51.21,133.09 51.63,135.17 52.06,136.47 52.48,137.76 52.9,140.71 53.33,143.04 53.75,144.76 54.17,147.08 54.6,149.56 55.02,151.09 55.45,152.62 55.87,154.41 56.29,155.37 56.72,156.48 57.14,157.39 57.56,158.29 57.99,158.67 58.41,158.99 58.83,159.43 59.26,159.82 59.68,160 60.11,160.11 60.53,160.22 60.95,160.33 61.38,160.4 61.8,160.4" fill="none" stroke="#74B94E" stroke-width="0.8" stroke-dasharray="2.4 1.5" stroke-linejoin="round"/>
<rect x="38.5" y="131.7" width="47.1" height="29" fill="none" stroke="#0a0a0a" stroke-width="1"/>
<path d="M38.5 160.7h-2.4M38.5 156.2h-2.4M38.5 151.7h-2.4M38.5 147.2h-2.4M38.5 142.7h-2.4M38.5 138.2h-2.4M38.5 133.7h-2.4M38.5 160.7v3M50.15 160.7v3M61.8 160.7v3M73.45 160.7v3M85.1 160.7v3" stroke="#0a0a0a" stroke-width="0.7" fill="none"/>
<path d="M38.5 158.45h-1.4M38.5 153.95h-1.4M38.5 149.45h-1.4M38.5 144.95h-1.4M38.5 140.45h-1.4M38.5 135.95h-1.4M42.01 160.7v1.4M44.06 160.7v1.4M45.51 160.7v1.4M46.64 160.7v1.4M47.57 160.7v1.4M48.35 160.7v1.4M49.02 160.7v1.4M49.62 160.7v1.4M53.66 160.7v1.4M55.71 160.7v1.4M57.16 160.7v1.4M58.29 160.7v1.4M59.22 160.7v1.4M60 160.7v1.4M60.67 160.7v1.4M61.27 160.7v1.4M65.31 160.7v1.4M67.36 160.7v1.4M68.81 160.7v1.4M69.94 160.7v1.4M70.87 160.7v1.4M71.65 160.7v1.4M72.32 160.7v1.4M72.92 160.7v1.4M76.96 160.7v1.4M79.01 160.7v1.4M80.46 160.7v1.4M81.59 160.7v1.4M82.52 160.7v1.4M83.3 160.7v1.4M83.97 160.7v1.4M84.57 160.7v1.4" stroke="#0a0a0a" stroke-width="0.5" fill="none"/>
<text x="35.2" y="171.1" font-size="5.5" stroke="#141414" stroke-width="0.32" textLength="5.3" lengthAdjust="spacingAndGlyphs">10</text>
<text x="40.3" y="169.1" font-size="3.8" stroke="#141414" stroke-width="0.25" textLength="2.0" lengthAdjust="spacingAndGlyphs">0</text>
<text x="46.85" y="171.1" font-size="5.5" stroke="#141414" stroke-width="0.32" textLength="5.3" lengthAdjust="spacingAndGlyphs">10</text>
<text x="51.95" y="169.1" font-size="3.8" stroke="#141414" stroke-width="0.25" textLength="2.0" lengthAdjust="spacingAndGlyphs">1</text>
<text x="58.5" y="171.1" font-size="5.5" stroke="#141414" stroke-width="0.32" textLength="5.3" lengthAdjust="spacingAndGlyphs">10</text>
<text x="63.6" y="169.1" font-size="3.8" stroke="#141414" stroke-width="0.25" textLength="2.0" lengthAdjust="spacingAndGlyphs">2</text>
<text x="70.15" y="171.1" font-size="5.5" stroke="#141414" stroke-width="0.32" textLength="5.3" lengthAdjust="spacingAndGlyphs">10</text>
<text x="75.25" y="169.1" font-size="3.8" stroke="#141414" stroke-width="0.25" textLength="2.0" lengthAdjust="spacingAndGlyphs">3</text>
<text x="81.8" y="171.1" font-size="5.5" stroke="#141414" stroke-width="0.32" textLength="5.3" lengthAdjust="spacingAndGlyphs">10</text>
<text x="86.9" y="169.1" font-size="3.8" stroke="#141414" stroke-width="0.25" textLength="2.0" lengthAdjust="spacingAndGlyphs">4</text>
<path d="M104.4 160.7 L104.4 160.7 L104.82 160.7 L105.25 160.7 L105.67 160.7 L106.09 160.7 L106.52 160.7 L106.94 160.7 L107.37 160.7 L107.79 160.7 L108.21 160.7 L108.64 160.7 L109.06 160.7 L109.48 160.7 L109.91 160.7 L110.33 160.7 L110.75 160.7 L111.18 160.7 L111.6 160.7 L112.03 160.7 L112.45 160.7 L112.87 160.7 L113.3 160.7 L113.72 160.7 L114.14 160.7 L114.57 160.7 L114.99 160.7 L115.41 160.7 L115.84 160.7 L116.26 160.7 L116.69 160.7 L117.11 160.7 L117.53 160.7 L117.96 160.7 L118.38 160.7 L118.8 160.7 L119.23 160.7 L119.65 160.7 L120.07 160.7 L120.5 160.7 L120.92 160.7 L121.35 160.7 L121.77 160.7 L122.19 160.7 L122.62 160.6 L123.04 160.32 L123.46 159.88 L123.89 159.19 L124.31 158.99 L124.73 157.85 L125.16 156.51 L125.58 154.56 L126.01 150.34 L126.43 148.85 L126.85 144.14 L127.28 141.3 L127.7 138.27 L128.12 135.96 L128.55 135.83 L128.97 132.1 L129.39 136.3 L129.82 136.34 L130.24 139.85 L130.67 141.28 L131.09 144.02 L131.51 146.16 L131.94 151.08 L132.36 154.47 L132.78 157.16 L133.21 157.7 L133.63 158.99 L134.05 159.58 L134.48 160.08 L134.9 160.31 L135.33 160.53 L135.75 160.7 L136.17 160.7 L136.6 160.7 L137.02 160.7 L137.44 160.7 L137.87 160.7 L138.29 160.7 L138.71 160.7 L139.14 160.7 L139.56 160.7 L139.99 160.7 L140.41 160.7 L140.83 160.7 L141.26 160.7 L141.68 160.7 L142.1 160.7 L142.53 160.7 L142.95 160.7 L143.37 160.7 L143.8 160.7 L144.22 160.7 L144.65 160.7 L145.07 160.7 L145.49 160.7 L145.92 160.7 L146.34 160.7 L146.76 160.7 L147.19 160.7 L147.61 160.7 L148.03 160.7 L148.46 160.7 L148.88 160.7 L149.31 160.7 L149.73 160.7 L150.15 160.7 L150.58 160.7 L151 160.7 L151.5 160.7 Z" fill="#A50630"/>
<polyline points="121.77,160.5 122.19,160.5 122.62,160.27 123.04,159.79 123.46,159.23 123.89,158.65 124.31,158.03 124.73,156.46 125.16,154.56 125.58,152.33 126.01,149.27 126.43,145.72 126.85,142.08 127.28,138.33 127.7,136.98 128.12,134.6 128.55,133.88 128.97,131.97 129.39,133.41 129.82,136.31 130.24,137.83 130.67,141.01 131.09,145.06 131.51,148.79 131.94,152.19 132.36,155.25 132.78,157.14 133.21,158.02 133.63,158.79 134.05,159.52 134.48,159.82 134.9,160.13 135.33,160.44 135.75,160.5" fill="none" stroke="#1D3A8E" stroke-width="0.7" stroke-linejoin="round"/>
<polyline points="109.48,160.4 109.91,160.4 110.33,160.11 110.75,159.74 111.18,159.35 111.6,159.06 112.03,157.75 112.45,155.37 112.87,152.11 113.3,148.21 113.72,143.58 114.14,140.36 114.57,137.08 114.99,134.49 115.41,134.06 115.84,133.25 116.26,133.44 116.69,136.32 117.11,139.44 117.53,143.24 117.96,147.13 118.38,151.36 118.8,154.66 119.23,156.96 119.65,157.86 120.07,158.84 120.5,159.16 120.92,159.44 121.35,159.74 121.77,160.04 122.19,160.4" fill="none" stroke="#74B94E" stroke-width="0.8" stroke-dasharray="2.4 1.5" stroke-linejoin="round"/>
<rect x="104.4" y="131.7" width="47.1" height="29" fill="none" stroke="#0a0a0a" stroke-width="1"/>
<path d="M104.4 160.7h-2.4M104.4 156.2h-2.4M104.4 151.7h-2.4M104.4 147.2h-2.4M104.4 142.7h-2.4M104.4 138.2h-2.4M104.4 133.7h-2.4M104.4 160.7v3M116.05 160.7v3M127.7 160.7v3M139.35 160.7v3M151 160.7v3" stroke="#0a0a0a" stroke-width="0.7" fill="none"/>
<path d="M104.4 158.45h-1.4M104.4 153.95h-1.4M104.4 149.45h-1.4M104.4 144.95h-1.4M104.4 140.45h-1.4M104.4 135.95h-1.4M107.91 160.7v1.4M109.96 160.7v1.4M111.41 160.7v1.4M112.54 160.7v1.4M113.47 160.7v1.4M114.25 160.7v1.4M114.92 160.7v1.4M115.52 160.7v1.4M119.56 160.7v1.4M121.61 160.7v1.4M123.06 160.7v1.4M124.19 160.7v1.4M125.12 160.7v1.4M125.9 160.7v1.4M126.57 160.7v1.4M127.17 160.7v1.4M131.21 160.7v1.4M133.26 160.7v1.4M134.71 160.7v1.4M135.84 160.7v1.4M136.77 160.7v1.4M137.55 160.7v1.4M138.22 160.7v1.4M138.82 160.7v1.4M142.86 160.7v1.4M144.91 160.7v1.4M146.36 160.7v1.4M147.49 160.7v1.4M148.42 160.7v1.4M149.2 160.7v1.4M149.87 160.7v1.4M150.47 160.7v1.4" stroke="#0a0a0a" stroke-width="0.5" fill="none"/>
<text x="101.1" y="171.1" font-size="5.5" stroke="#141414" stroke-width="0.32" textLength="5.3" lengthAdjust="spacingAndGlyphs">10</text>
<text x="106.2" y="169.1" font-size="3.8" stroke="#141414" stroke-width="0.25" textLength="2.0" lengthAdjust="spacingAndGlyphs">0</text>
<text x="112.75" y="171.1" font-size="5.5" stroke="#141414" stroke-width="0.32" textLength="5.3" lengthAdjust="spacingAndGlyphs">10</text>
<text x="117.85" y="169.1" font-size="3.8" stroke="#141414" stroke-width="0.25" textLength="2.0" lengthAdjust="spacingAndGlyphs">1</text>
<text x="124.4" y="171.1" font-size="5.5" stroke="#141414" stroke-width="0.32" textLength="5.3" lengthAdjust="spacingAndGlyphs">10</text>
<text x="129.5" y="169.1" font-size="3.8" stroke="#141414" stroke-width="0.25" textLength="2.0" lengthAdjust="spacingAndGlyphs">2</text>
<text x="136.05" y="171.1" font-size="5.5" stroke="#141414" stroke-width="0.32" textLength="5.3" lengthAdjust="spacingAndGlyphs">10</text>
<text x="141.15" y="169.1" font-size="3.8" stroke="#141414" stroke-width="0.25" textLength="2.0" lengthAdjust="spacingAndGlyphs">3</text>
<text x="147.7" y="171.1" font-size="5.5" stroke="#141414" stroke-width="0.32" textLength="5.3" lengthAdjust="spacingAndGlyphs">10</text>
<text x="152.8" y="169.1" font-size="3.8" stroke="#141414" stroke-width="0.25" textLength="2.0" lengthAdjust="spacingAndGlyphs">4</text>
<path d="M170 160.7 L170 160.7 L170.42 160.7 L170.85 160.7 L171.27 160.7 L171.69 160.7 L172.12 160.7 L172.54 160.7 L172.97 160.7 L173.39 160.7 L173.81 160.7 L174.24 160.7 L174.66 160.7 L175.08 160.7 L175.51 160.7 L175.93 160.7 L176.35 160.7 L176.78 160.7 L177.2 160.7 L177.63 160.7 L178.05 160.7 L178.47 160.7 L178.9 160.7 L179.32 160.7 L179.74 160.7 L180.17 160.7 L180.59 160.7 L181.01 160.7 L181.44 160.7 L181.86 160.7 L182.29 160.66 L182.71 160.34 L183.13 160.06 L183.56 159.79 L183.98 159.53 L184.4 159.33 L184.83 158.44 L185.25 158.08 L185.67 156.91 L186.1 155.65 L186.52 155.23 L186.95 153.16 L187.37 151.58 L187.79 151.17 L188.22 148.68 L188.64 145.97 L189.06 144.9 L189.49 141.91 L189.91 142.36 L190.33 140.32 L190.76 139.43 L191.18 135.78 L191.61 132.1 L192.03 133.24 L192.45 132.1 L192.88 134.75 L193.3 133.89 L193.72 139.1 L194.15 141.01 L194.57 142.48 L194.99 145.67 L195.42 149.79 L195.84 153.27 L196.27 155.71 L196.69 157.41 L197.11 158.27 L197.54 159 L197.96 159.88 L198.38 160.13 L198.81 160.45 L199.23 160.7 L199.65 160.7 L200.08 160.7 L200.5 160.7 L200.93 160.7 L201.35 160.7 L201.77 160.7 L202.2 160.7 L202.62 160.7 L203.04 160.7 L203.47 160.7 L203.89 160.7 L204.31 160.7 L204.74 160.7 L205.16 160.7 L205.59 160.7 L206.01 160.7 L206.43 160.7 L206.86 160.7 L207.28 160.7 L207.7 160.7 L208.13 160.7 L208.55 160.7 L208.97 160.7 L209.4 160.7 L209.82 160.7 L210.25 160.7 L210.67 160.7 L211.09 160.7 L211.52 160.7 L211.94 160.7 L212.36 160.7 L212.79 160.7 L213.21 160.7 L213.63 160.7 L214.06 160.7 L214.48 160.7 L214.91 160.7 L215.33 160.7 L215.75 160.7 L216.18 160.7 L216.6 160.7 L217.1 160.7 Z" fill="#A50630"/>
<polyline points="181.01,160.5 181.44,160.31 181.86,159.97 182.29,159.62 182.71,159.27 183.13,158.92 183.56,158.61 183.98,157.8 184.4,156.89 184.83,156.08 185.25,154.84 185.67,153.43 186.1,152.03 186.52,150.5 186.95,148.67 187.37,147.32 187.79,145.32 188.22,143.67 188.64,140.93 189.06,140.01 189.49,137.38 189.91,136.8 190.33,134.27 190.76,134.28 191.18,133.8 191.61,132.7 192.03,133.68 192.45,133.24 192.88,134.16 193.3,137.66 193.72,141.2 194.15,143.39 194.57,146.74 194.99,150.47 195.42,153.17 195.84,156.14 196.27,157.1 196.69,158.01 197.11,159.02 197.54,159.51 197.96,159.92 198.38,160.32 198.81,160.5" fill="none" stroke="#1D3A8E" stroke-width="0.7" stroke-linejoin="round"/>
<polyline points="174.66,160.4 175.08,160.27 175.51,159.51 175.93,158.74 176.35,157.74 176.78,156.02 177.2,154.32 177.63,151.97 178.05,149.21 178.47,145.92 178.9,143.01 179.32,139.13 179.74,136.75 180.17,134.91 180.59,132.79 181.01,133.57 181.44,134.25 181.86,136.01 182.29,140.77 182.71,143.62 183.13,147.09 183.56,150.49 183.98,154.01 184.4,155.59 184.83,157.31 185.25,158.43 185.67,158.87 186.1,159.3 186.52,159.73 186.95,160.4 187.37,160.4" fill="none" stroke="#74B94E" stroke-width="0.8" stroke-dasharray="2.4 1.5" stroke-linejoin="round"/>
<rect x="170" y="131.7" width="47.1" height="29" fill="none" stroke="#0a0a0a" stroke-width="1"/>
<path d="M170 160.7h-2.4M170 156.2h-2.4M170 151.7h-2.4M170 147.2h-2.4M170 142.7h-2.4M170 138.2h-2.4M170 133.7h-2.4M170 160.7v3M181.65 160.7v3M193.3 160.7v3M204.95 160.7v3M216.6 160.7v3" stroke="#0a0a0a" stroke-width="0.7" fill="none"/>
<path d="M170 158.45h-1.4M170 153.95h-1.4M170 149.45h-1.4M170 144.95h-1.4M170 140.45h-1.4M170 135.95h-1.4M173.51 160.7v1.4M175.56 160.7v1.4M177.01 160.7v1.4M178.14 160.7v1.4M179.07 160.7v1.4M179.85 160.7v1.4M180.52 160.7v1.4M181.12 160.7v1.4M185.16 160.7v1.4M187.21 160.7v1.4M188.66 160.7v1.4M189.79 160.7v1.4M190.72 160.7v1.4M191.5 160.7v1.4M192.17 160.7v1.4M192.77 160.7v1.4M196.81 160.7v1.4M198.86 160.7v1.4M200.31 160.7v1.4M201.44 160.7v1.4M202.37 160.7v1.4M203.15 160.7v1.4M203.82 160.7v1.4M204.42 160.7v1.4M208.46 160.7v1.4M210.51 160.7v1.4M211.96 160.7v1.4M213.09 160.7v1.4M214.02 160.7v1.4M214.8 160.7v1.4M215.47 160.7v1.4M216.07 160.7v1.4" stroke="#0a0a0a" stroke-width="0.5" fill="none"/>
<text x="166.7" y="171.1" font-size="5.5" stroke="#141414" stroke-width="0.32" textLength="5.3" lengthAdjust="spacingAndGlyphs">10</text>
<text x="171.8" y="169.1" font-size="3.8" stroke="#141414" stroke-width="0.25" textLength="2.0" lengthAdjust="spacingAndGlyphs">0</text>
<text x="178.35" y="171.1" font-size="5.5" stroke="#141414" stroke-width="0.32" textLength="5.3" lengthAdjust="spacingAndGlyphs">10</text>
<text x="183.45" y="169.1" font-size="3.8" stroke="#141414" stroke-width="0.25" textLength="2.0" lengthAdjust="spacingAndGlyphs">1</text>
<text x="190" y="171.1" font-size="5.5" stroke="#141414" stroke-width="0.32" textLength="5.3" lengthAdjust="spacingAndGlyphs">10</text>
<text x="195.1" y="169.1" font-size="3.8" stroke="#141414" stroke-width="0.25" textLength="2.0" lengthAdjust="spacingAndGlyphs">2</text>
<text x="201.65" y="171.1" font-size="5.5" stroke="#141414" stroke-width="0.32" textLength="5.3" lengthAdjust="spacingAndGlyphs">10</text>
<text x="206.75" y="169.1" font-size="3.8" stroke="#141414" stroke-width="0.25" textLength="2.0" lengthAdjust="spacingAndGlyphs">3</text>
<text x="213.3" y="171.1" font-size="5.5" stroke="#141414" stroke-width="0.32" textLength="5.3" lengthAdjust="spacingAndGlyphs">10</text>
<text x="218.4" y="169.1" font-size="3.8" stroke="#141414" stroke-width="0.25" textLength="2.0" lengthAdjust="spacingAndGlyphs">4</text>
<path d="M236 160.7 L236 160.7 L236.42 160.7 L236.85 160.7 L237.27 160.7 L237.69 160.7 L238.12 160.7 L238.54 160.7 L238.97 160.7 L239.39 160.7 L239.81 160.7 L240.24 160.7 L240.66 160.7 L241.08 160.7 L241.51 160.7 L241.93 160.7 L242.35 160.7 L242.78 160.7 L243.2 160.7 L243.63 160.7 L244.05 160.7 L244.47 160.7 L244.9 160.7 L245.32 160.7 L245.74 160.7 L246.17 160.7 L246.59 160.7 L247.01 160.7 L247.44 160.54 L247.86 160.32 L248.29 160.11 L248.71 159.91 L249.13 159.69 L249.56 159.52 L249.98 158.64 L250.4 157.93 L250.83 156.55 L251.25 155.47 L251.67 154.02 L252.1 153.27 L252.52 151.05 L252.95 149.53 L253.37 147.8 L253.79 143.45 L254.22 141.05 L254.64 142.95 L255.06 137.23 L255.49 136.87 L255.91 136.57 L256.33 135.88 L256.76 132.83 L257.18 133.34 L257.61 132.56 L258.03 133.57 L258.45 137.39 L258.88 134.68 L259.3 134.37 L259.72 135.28 L260.15 138.02 L260.57 141.7 L260.99 142.78 L261.42 143.36 L261.84 141.59 L262.27 145.42 L262.69 146.47 L263.11 146.03 L263.54 148.9 L263.96 149.32 L264.38 150.41 L264.81 152.01 L265.23 151.75 L265.65 152.04 L266.08 153.88 L266.5 154.4 L266.93 154.79 L267.35 155.89 L267.77 155.89 L268.2 156.12 L268.62 156.83 L269.04 157.48 L269.47 157.76 L269.89 158.51 L270.31 158.65 L270.74 159.08 L271.16 159.35 L271.59 159.68 L272.01 159.67 L272.43 159.88 L272.86 160.03 L273.28 160.18 L273.7 160.32 L274.13 160.43 L274.55 160.48 L274.97 160.53 L275.4 160.57 L275.82 160.62 L276.25 160.67 L276.67 160.7 L277.09 160.7 L277.52 160.7 L277.94 160.7 L278.36 160.7 L278.79 160.7 L279.21 160.7 L279.63 160.7 L280.06 160.7 L280.48 160.7 L280.91 160.7 L281.33 160.7 L281.75 160.7 L282.18 160.7 L282.6 160.7 L283.1 160.7 Z" fill="#A50630"/>
<polyline points="246.17,160.5 246.59,160.5 247.01,160.32 247.44,160.06 247.86,159.79 248.29,159.54 248.71,159.25 249.13,158.98 249.56,158.04 249.98,157.23 250.4,156.3 250.83,155.29 251.25,153.71 251.67,151.9 252.1,150.66 252.52,148.37 252.95,146.6 253.37,144.52 253.79,142.38 254.22,139.87 254.64,138.12 255.06,137.46 255.49,135.63 255.91,134.72 256.33,133.03 256.76,132.58 257.18,132.04 257.61,132.71 258.03,133.79 258.45,134.4 258.88,135.42 259.3,136.97 259.72,136.9 260.15,138.38 260.57,139.05 260.99,140.3 261.42,141.83 261.84,143.34 262.27,144.71 262.69,146.04 263.11,147.36 263.54,148 263.96,148.73 264.38,149.06 264.81,149.7 265.23,150.23 265.65,150.77 266.08,151.79 266.5,152.18 266.93,152.97 267.35,153.79 267.77,154.61 268.2,155.35 268.62,156.27 269.04,157.06 269.47,157.56 269.89,157.95 270.31,158.34 270.74,158.64 271.16,159.01 271.59,159.2 272.01,159.4 272.43,159.58 272.86,159.76 273.28,159.96 273.7,160.15 274.13,160.25 274.55,160.29 274.97,160.34 275.4,160.39 275.82,160.43 276.25,160.48 276.67,160.5" fill="none" stroke="#1D3A8E" stroke-width="0.7" stroke-linejoin="round"/>
<polyline points="236,159.4 236.42,159.09 236.85,158.78 237.27,158.56 237.69,158.22 238.12,157.94 238.54,157.65 238.97,157.29 239.39,156.69 239.81,155.99 240.24,155.25 240.66,154.78 241.08,154.06 241.51,153.21 241.93,151.85 242.35,150.67 242.78,149.88 243.2,148.27 243.63,147.49 244.05,145.38 244.47,143.8 244.9,142.96 245.32,140.61 245.74,139.04 246.17,136.75 246.59,136.44 247.01,134.68 247.44,132.85 247.86,132.69 248.29,133.39 248.71,134.8 249.13,134.54 249.56,136.75 249.98,138.18 250.4,141.35 250.83,142.96 251.25,145.61 251.67,148.19 252.1,150.91 252.52,152.51 252.95,154.44 253.37,155.47 253.79,156.43 254.22,157.16 254.64,158.11 255.06,158.81 255.49,159.03 255.91,159.3 256.33,159.5 256.76,159.73 257.18,159.95 257.61,160.4 258.03,160.4" fill="none" stroke="#74B94E" stroke-width="0.8" stroke-dasharray="2.4 1.5" stroke-linejoin="round"/>
<rect x="236" y="131.7" width="47.1" height="29" fill="none" stroke="#0a0a0a" stroke-width="1"/>
<path d="M236 160.7h-2.4M236 156.2h-2.4M236 151.7h-2.4M236 147.2h-2.4M236 142.7h-2.4M236 138.2h-2.4M236 133.7h-2.4M236 160.7v3M247.65 160.7v3M259.3 160.7v3M270.95 160.7v3M282.6 160.7v3" stroke="#0a0a0a" stroke-width="0.7" fill="none"/>
<path d="M236 158.45h-1.4M236 153.95h-1.4M236 149.45h-1.4M236 144.95h-1.4M236 140.45h-1.4M236 135.95h-1.4M239.51 160.7v1.4M241.56 160.7v1.4M243.01 160.7v1.4M244.14 160.7v1.4M245.07 160.7v1.4M245.85 160.7v1.4M246.52 160.7v1.4M247.12 160.7v1.4M251.16 160.7v1.4M253.21 160.7v1.4M254.66 160.7v1.4M255.79 160.7v1.4M256.72 160.7v1.4M257.5 160.7v1.4M258.17 160.7v1.4M258.77 160.7v1.4M262.81 160.7v1.4M264.86 160.7v1.4M266.31 160.7v1.4M267.44 160.7v1.4M268.37 160.7v1.4M269.15 160.7v1.4M269.82 160.7v1.4M270.42 160.7v1.4M274.46 160.7v1.4M276.51 160.7v1.4M277.96 160.7v1.4M279.09 160.7v1.4M280.02 160.7v1.4M280.8 160.7v1.4M281.47 160.7v1.4M282.07 160.7v1.4" stroke="#0a0a0a" stroke-width="0.5" fill="none"/>
<text x="232.7" y="171.1" font-size="5.5" stroke="#141414" stroke-width="0.32" textLength="5.3" lengthAdjust="spacingAndGlyphs">10</text>
<text x="237.8" y="169.1" font-size="3.8" stroke="#141414" stroke-width="0.25" textLength="2.0" lengthAdjust="spacingAndGlyphs">0</text>
<text x="244.35" y="171.1" font-size="5.5" stroke="#141414" stroke-width="0.32" textLength="5.3" lengthAdjust="spacingAndGlyphs">10</text>
<text x="249.45" y="169.1" font-size="3.8" stroke="#141414" stroke-width="0.25" textLength="2.0" lengthAdjust="spacingAndGlyphs">1</text>
<text x="256" y="171.1" font-size="5.5" stroke="#141414" stroke-width="0.32" textLength="5.3" lengthAdjust="spacingAndGlyphs">10</text>
<text x="261.1" y="169.1" font-size="3.8" stroke="#141414" stroke-width="0.25" textLength="2.0" lengthAdjust="spacingAndGlyphs">2</text>
<text x="267.65" y="171.1" font-size="5.5" stroke="#141414" stroke-width="0.32" textLength="5.3" lengthAdjust="spacingAndGlyphs">10</text>
<text x="272.75" y="169.1" font-size="3.8" stroke="#141414" stroke-width="0.25" textLength="2.0" lengthAdjust="spacingAndGlyphs">3</text>
<text x="279.3" y="171.1" font-size="5.5" stroke="#141414" stroke-width="0.32" textLength="5.3" lengthAdjust="spacingAndGlyphs">10</text>
<text x="284.4" y="169.1" font-size="3.8" stroke="#141414" stroke-width="0.25" textLength="2.0" lengthAdjust="spacingAndGlyphs">4</text>
<text x="7.1" y="16.34" text-anchor="start" font-size="11" font-weight="700" stroke="none" fill="#000">A</text>
<text x="32" y="33.32" text-anchor="end" font-size="4.8">Freshly</text>
<text x="32" y="39.92" text-anchor="end" font-size="4.8">isolated</text>
<rect x="16.8" y="65.3" width="269" height="1.4" fill="#555"/>
<text x="20" y="78.79" text-anchor="start" font-size="5">After culture with</text>
<text x="32.2" y="100.56" text-anchor="end" font-size="5.2">LPS</text>
<text x="32.2" y="148.86" text-anchor="end" font-size="5.2">TSLP</text>
<text x="62" y="181.31" text-anchor="middle" font-size="7" font-weight="700" stroke="none" fill="#222" textLength="11.99" lengthAdjust="spacingAndGlyphs">CD86</text>
<text x="127.7" y="181.31" text-anchor="middle" font-size="7" font-weight="700" stroke="none" fill="#222" textLength="11.99" lengthAdjust="spacingAndGlyphs">CD80</text>
<text x="193.5" y="181.31" text-anchor="middle" font-size="7" font-weight="700" stroke="none" fill="#222" textLength="11.99" lengthAdjust="spacingAndGlyphs">CD83</text>
<text x="259.5" y="181.31" text-anchor="middle" font-size="7" font-weight="700" stroke="none" fill="#222" textLength="14.86" lengthAdjust="spacingAndGlyphs">OX40L</text>
<rect x="237.5" y="33.8" width="13" height="5.7" fill="#A50630"/>
<text x="258.8" y="38.61" text-anchor="start" font-size="5.05" stroke="#141414" stroke-width="0.06">Indicated Ab</text>
<path d="M232 45.3H256.3" stroke="#74B94E" stroke-width="0.7" stroke-dasharray="2.2 1.45"/>
<text x="258.8" y="47.11" text-anchor="start" font-size="5.05" stroke="#141414" stroke-width="0.06">Isotype control</text>
<rect x="237.5" y="91" width="13" height="5.6" fill="#A50630"/>
<text x="258.8" y="95.41" text-anchor="start" font-size="5.05" stroke="#141414" stroke-width="0.06">Indicated Ab (LPS/TSLP alone)</text>
<path d="M232 102.4H256.3" stroke="#1D3A8E" stroke-width="0.6"/>
<text x="258.8" y="103.91" text-anchor="start" font-size="5.05" stroke="#141414" stroke-width="0.06">Indicated Ab (LPS/TSLP + LEN)</text>
<path d="M232 111H256.3" stroke="#74B94E" stroke-width="0.85" stroke-dasharray="2.9 2.2"/>
<text x="258.8" y="112.81" text-anchor="start" font-size="5.05" stroke="#141414" stroke-width="0.06">Isotype control</text>
<text x="7.1" y="196.34" text-anchor="start" font-size="11" font-weight="700" stroke="none" fill="#000">B</text>
<text x="6.9" y="209.91" text-anchor="start" font-size="7" stroke="#141414" stroke-width="0.08">LPS</text>
<path d="M37.5 237.4V235.71M36 235.71h3" stroke="#000" stroke-width="0.8" fill="none"/>
<rect x="35.1" y="237.1" width="4.8" height="55.15" fill="#A20A32"/>
<path d="M52.3 238.92V237.41M50.8 237.41h3" stroke="#000" stroke-width="0.8" fill="none"/>
<rect x="49.9" y="238.62" width="4.8" height="53.63" fill="#27477E"/>
<path d="M59.8 238.92V237.41M58.3 237.41h3" stroke="#000" stroke-width="0.8" fill="none"/>
<rect x="57.4" y="238.62" width="4.8" height="53.63" fill="#27477E"/>
<path d="M67.1 239.83V238.32M65.6 238.32h3" stroke="#000" stroke-width="0.8" fill="none"/>
<rect x="64.7" y="239.53" width="4.8" height="52.72" fill="#27477E"/>
<path d="M74.55 240.13V238.44M73.05 238.44h3" stroke="#000" stroke-width="0.8" fill="none"/>
<rect x="72.15" y="239.83" width="4.8" height="52.42" fill="#27477E"/>
<path d="M89.3 238.62V236.8M87.8 236.8h3" stroke="#000" stroke-width="0.8" fill="none"/>
<rect x="86.9" y="238.32" width="4.8" height="53.93" fill="#67A83A"/>
<path d="M96.6 239.22V237.53M95.1 237.53h3" stroke="#000" stroke-width="0.8" fill="none"/>
<rect x="94.2" y="238.92" width="4.8" height="53.33" fill="#67A83A"/>
<path d="M104.1 239.22V237.53M102.6 237.53h3" stroke="#000" stroke-width="0.8" fill="none"/>
<rect x="101.7" y="238.92" width="4.8" height="53.33" fill="#67A83A"/>
<path d="M119.05 278.01V276.8M117.55 276.8h3" stroke="#000" stroke-width="0.8" fill="none"/>
<rect x="116.65" y="277.71" width="4.8" height="14.54" fill="#4B1E60"/>
<text x="119.05" y="276.3" text-anchor="middle" font-size="4.2">**</text>
<path d="M32.5 228.8V292.25H122.5M32.5 292.25h-3M32.5 277.1h-3M32.5 261.95h-3M32.5 246.8h-3M32.5 231.65h-3" stroke="#000" stroke-width="1.25" fill="none"/>
<text x="27.6" y="294.18" text-anchor="end" font-size="5.4">0</text>
<text x="27.6" y="279.03" text-anchor="end" font-size="5.4">25</text>
<text x="27.6" y="263.88" text-anchor="end" font-size="5.4">50</text>
<text x="27.6" y="248.73" text-anchor="end" font-size="5.4">75</text>
<text x="27.6" y="233.58" text-anchor="end" font-size="5.4">100</text>
<text transform="translate(10.3 260.52) rotate(-90)" x="0" y="2.65" text-anchor="middle" font-size="7.4" font-weight="700" stroke="none" textLength="48.65" lengthAdjust="spacingAndGlyphs">Viability of mDCs (%)</text>
<text x="78.3" y="210.11" text-anchor="middle" font-size="7.3" stroke="#141414" stroke-width="0.08" textLength="23.2" lengthAdjust="spacingAndGlyphs">Viability</text>
<path d="M37.1 226.5V224.6H104.2V226.5" stroke="#000" stroke-width="0.75" fill="none"/>
<text x="70.4" y="222.17" text-anchor="middle" font-size="5.5" stroke="#141414" stroke-width="0.06">p=0.138</text>
<path d="M37.1 234.1V232.2H74.5V234.1" stroke="#000" stroke-width="0.75" fill="none"/>
<text x="55.7" y="230.57" text-anchor="middle" font-size="5.5" stroke="#141414" stroke-width="0.06">p=0.091</text>
<text transform="translate(54.2 296.95) rotate(-45)" x="0" y="2" text-anchor="end" font-size="5.6" stroke="#141414" stroke-width="0.08">0.1</text>
<text transform="translate(61.7 296.95) rotate(-45)" x="0" y="2" text-anchor="end" font-size="5.6" stroke="#141414" stroke-width="0.08">0.3</text>
<text transform="translate(69 296.95) rotate(-45)" x="0" y="2" text-anchor="end" font-size="5.6" stroke="#141414" stroke-width="0.08">1</text>
<text transform="translate(76.45 296.95) rotate(-45)" x="0" y="2" text-anchor="end" font-size="5.6" stroke="#141414" stroke-width="0.08">3</text>
<text transform="translate(91.2 296.95) rotate(-45)" x="0" y="2" text-anchor="end" font-size="5.6" stroke="#141414" stroke-width="0.08">0.1</text>
<text transform="translate(98.5 296.95) rotate(-45)" x="0" y="2" text-anchor="end" font-size="5.6" stroke="#141414" stroke-width="0.08">0.3</text>
<text transform="translate(106 296.95) rotate(-45)" x="0" y="2" text-anchor="end" font-size="5.6" stroke="#141414" stroke-width="0.08">1</text>
<text transform="translate(121.15 297.15) rotate(-45)" x="0" y="2" text-anchor="end" font-size="5.6" stroke="#141414" stroke-width="0.08">30</text>
<text x="37.2" y="308.66" text-anchor="middle" font-size="5.2">LPS</text>
<text x="37.2" y="314.86" text-anchor="middle" font-size="5.2">alone</text>
<text x="118.85" y="308.66" text-anchor="middle" font-size="5.2">+BOR</text>
<text x="118.85" y="314.06" text-anchor="middle" font-size="5.2">(nM)</text>
<path d="M46.3 310.85L76.55 307.15L76.55 311.15Z" fill="#111"/>
<path d="M84.3 310.85L104.3 307.15L104.3 311.15Z" fill="#111"/>
<text x="61.1" y="318.71" text-anchor="middle" font-size="5.2">+LEN</text>
<text x="61.1" y="324.51" text-anchor="middle" font-size="5.2">(μM)</text>
<text x="92.9" y="318.71" text-anchor="middle" font-size="5.2">+POM</text>
<text x="92.9" y="324.51" text-anchor="middle" font-size="5.2">(μM)</text>
<path d="M160.2 287.77V286.26M158.7 286.26h3" stroke="#000" stroke-width="0.8" fill="none"/>
<rect x="157.8" y="287.47" width="4.8" height="2.53" fill="#A20A32"/>
<path d="M167.6 234.86V231.52M166.1 231.52h3" stroke="#000" stroke-width="0.8" fill="none"/>
<rect x="165.2" y="234.56" width="4.8" height="55.44" fill="#A20A32"/>
<path d="M182.1 235.16V232.33M180.6 232.33h3" stroke="#000" stroke-width="0.8" fill="none"/>
<rect x="179.7" y="234.86" width="4.8" height="55.14" fill="#27477E"/>
<path d="M189.5 236.17V233.04M188 233.04h3" stroke="#000" stroke-width="0.8" fill="none"/>
<rect x="187.1" y="235.87" width="4.8" height="54.13" fill="#27477E"/>
<path d="M197.1 237.19V234.36M195.6 234.36h3" stroke="#000" stroke-width="0.8" fill="none"/>
<rect x="194.7" y="236.89" width="4.8" height="53.11" fill="#27477E"/>
<path d="M204.5 237.69V234.86M203 234.86h3" stroke="#000" stroke-width="0.8" fill="none"/>
<rect x="202.1" y="237.39" width="4.8" height="52.61" fill="#27477E"/>
<path d="M219.4 235.67V232.84M217.9 232.84h3" stroke="#000" stroke-width="0.8" fill="none"/>
<rect x="217" y="235.37" width="4.8" height="54.63" fill="#67A83A"/>
<path d="M226.8 236.17V233.65M225.3 233.65h3" stroke="#000" stroke-width="0.8" fill="none"/>
<rect x="224.4" y="235.87" width="4.8" height="54.13" fill="#67A83A"/>
<path d="M234.2 236.68V234.15M232.7 234.15h3" stroke="#000" stroke-width="0.8" fill="none"/>
<rect x="231.8" y="236.38" width="4.8" height="53.62" fill="#67A83A"/>
<path d="M248.6 272.09V269.56M247.1 269.56h3" stroke="#000" stroke-width="0.8" fill="none"/>
<rect x="246.2" y="271.79" width="4.8" height="18.21" fill="#4B1E60"/>
<text x="248.6" y="269.07" text-anchor="middle" font-size="4.2">**</text>
<path d="M155.5 226.7V290H253.5M155.5 290h-3M155.5 279.88h-3M155.5 269.77h-3M155.5 259.65h-3M155.5 249.53h-3M155.5 239.41h-3M155.5 229.3h-3" stroke="#000" stroke-width="1.25" fill="none"/>
<text x="150.6" y="291.93" text-anchor="end" font-size="5.4">0</text>
<text x="150.6" y="281.82" text-anchor="end" font-size="5.4">100</text>
<text x="150.6" y="271.7" text-anchor="end" font-size="5.4">200</text>
<text x="150.6" y="261.58" text-anchor="end" font-size="5.4">300</text>
<text x="150.6" y="251.47" text-anchor="end" font-size="5.4">400</text>
<text x="150.6" y="241.35" text-anchor="end" font-size="5.4">500</text>
<text x="150.6" y="231.23" text-anchor="end" font-size="5.4">600</text>
<text transform="translate(133.3 258.35) rotate(-90)" x="0" y="2.65" text-anchor="middle" font-size="7.4" font-weight="700" stroke="none" textLength="22.08" lengthAdjust="spacingAndGlyphs">CD86 MFI</text>
<text x="204.7" y="209.91" text-anchor="middle" font-size="7.3" stroke="#141414" stroke-width="0.08">CD86</text>
<path d="M167.3 221.8V219.9H234V221.8" stroke="#000" stroke-width="0.75" fill="none"/>
<text x="200.3" y="217.77" text-anchor="middle" font-size="5.5" stroke="#141414" stroke-width="0.06">p=0.139</text>
<path d="M167.3 229.4V227.5H204.2V229.4" stroke="#000" stroke-width="0.75" fill="none"/>
<text x="186" y="225.77" text-anchor="middle" font-size="5.5" stroke="#141414" stroke-width="0.06">p=0.296</text>
<text x="160.1" y="298.06" text-anchor="middle" font-size="5.2">Fresh</text>
<text transform="translate(183.5 294.8) rotate(-45)" x="0" y="2" text-anchor="end" font-size="5.6" stroke="#141414" stroke-width="0.08">0.1</text>
<text transform="translate(190.9 294.8) rotate(-45)" x="0" y="2" text-anchor="end" font-size="5.6" stroke="#141414" stroke-width="0.08">0.3</text>
<text transform="translate(198.5 294.8) rotate(-45)" x="0" y="2" text-anchor="end" font-size="5.6" stroke="#141414" stroke-width="0.08">1</text>
<text transform="translate(205.9 294.8) rotate(-45)" x="0" y="2" text-anchor="end" font-size="5.6" stroke="#141414" stroke-width="0.08">3</text>
<text transform="translate(220.8 294.8) rotate(-45)" x="0" y="2" text-anchor="end" font-size="5.6" stroke="#141414" stroke-width="0.08">0.1</text>
<text transform="translate(228.2 294.8) rotate(-45)" x="0" y="2" text-anchor="end" font-size="5.6" stroke="#141414" stroke-width="0.08">0.3</text>
<text transform="translate(235.6 294.8) rotate(-45)" x="0" y="2" text-anchor="end" font-size="5.6" stroke="#141414" stroke-width="0.08">1</text>
<text transform="translate(250.2 295) rotate(-45)" x="0" y="2" text-anchor="end" font-size="5.6" stroke="#141414" stroke-width="0.08">30</text>
<text x="167.3" y="308.66" text-anchor="middle" font-size="5.2">LPS</text>
<text x="167.3" y="314.76" text-anchor="middle" font-size="5.2">alone</text>
<text x="248.4" y="308.66" text-anchor="middle" font-size="5.2">+BOR</text>
<text x="248.4" y="313.96" text-anchor="middle" font-size="5.2">(nM)</text>
<path d="M176.1 308.6L206.5 304.9L206.5 308.9Z" fill="#111"/>
<path d="M214.4 308.6L234.4 304.9L234.4 308.9Z" fill="#111"/>
<text x="190.9" y="316.66" text-anchor="middle" font-size="5.2">+LEN</text>
<text x="190.9" y="322.26" text-anchor="middle" font-size="5.2">(μM)</text>
<text x="223" y="319.06" text-anchor="middle" font-size="5.2">+POM</text>
<text x="223" y="324.56" text-anchor="middle" font-size="5.2">(μM)</text>
<path d="M289.1 287.87V286.66M287.6 286.66h3" stroke="#000" stroke-width="0.8" fill="none"/>
<rect x="286.7" y="287.57" width="4.8" height="2.43" fill="#A20A32"/>
<path d="M296.5 237.49V235.37M295 235.37h3" stroke="#000" stroke-width="0.8" fill="none"/>
<rect x="294.1" y="237.19" width="4.8" height="52.81" fill="#A20A32"/>
<path d="M311 237.19V234.76M309.5 234.76h3" stroke="#000" stroke-width="0.8" fill="none"/>
<rect x="308.6" y="236.89" width="4.8" height="53.11" fill="#27477E"/>
<path d="M318.4 238.1V235.98M316.9 235.98h3" stroke="#000" stroke-width="0.8" fill="none"/>
<rect x="316" y="237.8" width="4.8" height="52.2" fill="#27477E"/>
<path d="M326 238.71V236.28M324.5 236.28h3" stroke="#000" stroke-width="0.8" fill="none"/>
<rect x="323.6" y="238.41" width="4.8" height="51.59" fill="#27477E"/>
<path d="M333.4 239.31V236.58M331.9 236.58h3" stroke="#000" stroke-width="0.8" fill="none"/>
<rect x="331" y="239.01" width="4.8" height="50.99" fill="#27477E"/>
<path d="M348.3 237.79V235.67M346.8 235.67h3" stroke="#000" stroke-width="0.8" fill="none"/>
<rect x="345.9" y="237.49" width="4.8" height="52.51" fill="#67A83A"/>
<path d="M355.7 237.49V235.07M354.2 235.07h3" stroke="#000" stroke-width="0.8" fill="none"/>
<rect x="353.3" y="237.19" width="4.8" height="52.81" fill="#67A83A"/>
<path d="M363.1 239.62V236.58M361.6 236.58h3" stroke="#000" stroke-width="0.8" fill="none"/>
<rect x="360.7" y="239.32" width="4.8" height="50.68" fill="#67A83A"/>
<path d="M377.5 271.48V268.45M376 268.45h3" stroke="#000" stroke-width="0.8" fill="none"/>
<rect x="375.1" y="271.18" width="4.8" height="18.82" fill="#4B1E60"/>
<text x="377.5" y="267.96" text-anchor="middle" font-size="4.2">**</text>
<path d="M284.4 226.7V290H382.4M284.4 290h-3M284.4 274.82h-3M284.4 259.65h-3M284.4 244.47h-3M284.4 229.3h-3" stroke="#000" stroke-width="1.25" fill="none"/>
<text x="279.5" y="291.93" text-anchor="end" font-size="5.4">0</text>
<text x="279.5" y="276.76" text-anchor="end" font-size="5.4">50</text>
<text x="279.5" y="261.58" text-anchor="end" font-size="5.4">100</text>
<text x="279.5" y="246.41" text-anchor="end" font-size="5.4">150</text>
<text x="279.5" y="231.23" text-anchor="end" font-size="5.4">200</text>
<text transform="translate(262.2 258.35) rotate(-90)" x="0" y="2.65" text-anchor="middle" font-size="7.4" font-weight="700" stroke="none" textLength="22.08" lengthAdjust="spacingAndGlyphs">CD80 MFI</text>
<text x="333.7" y="209.91" text-anchor="middle" font-size="7.3" stroke="#141414" stroke-width="0.08">CD80</text>
<path d="M295.8 224.9V223H363V224.9" stroke="#000" stroke-width="0.75" fill="none"/>
<text x="329" y="221.57" text-anchor="middle" font-size="5.5" stroke="#141414" stroke-width="0.06">p=0.143</text>
<path d="M295.8 233.2V231.3H332.9V233.2" stroke="#000" stroke-width="0.75" fill="none"/>
<text x="314.2" y="229.87" text-anchor="middle" font-size="5.5" stroke="#141414" stroke-width="0.06">p=0.095</text>
<text x="289" y="298.06" text-anchor="middle" font-size="5.2">Fresh</text>
<text transform="translate(312.4 294.8) rotate(-45)" x="0" y="2" text-anchor="end" font-size="5.6" stroke="#141414" stroke-width="0.08">0.1</text>
<text transform="translate(319.8 294.8) rotate(-45)" x="0" y="2" text-anchor="end" font-size="5.6" stroke="#141414" stroke-width="0.08">0.3</text>
<text transform="translate(327.4 294.8) rotate(-45)" x="0" y="2" text-anchor="end" font-size="5.6" stroke="#141414" stroke-width="0.08">1</text>
<text transform="translate(334.8 294.8) rotate(-45)" x="0" y="2" text-anchor="end" font-size="5.6" stroke="#141414" stroke-width="0.08">3</text>
<text transform="translate(349.7 294.8) rotate(-45)" x="0" y="2" text-anchor="end" font-size="5.6" stroke="#141414" stroke-width="0.08">0.1</text>
<text transform="translate(357.1 294.8) rotate(-45)" x="0" y="2" text-anchor="end" font-size="5.6" stroke="#141414" stroke-width="0.08">0.3</text>
<text transform="translate(364.5 294.8) rotate(-45)" x="0" y="2" text-anchor="end" font-size="5.6" stroke="#141414" stroke-width="0.08">1</text>
<text transform="translate(379.1 295) rotate(-45)" x="0" y="2" text-anchor="end" font-size="5.6" stroke="#141414" stroke-width="0.08">30</text>
<text x="296.2" y="308.66" text-anchor="middle" font-size="5.2">LPS</text>
<text x="296.2" y="314.76" text-anchor="middle" font-size="5.2">alone</text>
<text x="377.3" y="308.66" text-anchor="middle" font-size="5.2">+BOR</text>
<text x="377.3" y="313.96" text-anchor="middle" font-size="5.2">(nM)</text>
<path d="M305 308.6L335.4 304.9L335.4 308.9Z" fill="#111"/>
<path d="M343.3 308.6L363.3 304.9L363.3 308.9Z" fill="#111"/>
<text x="319.8" y="316.66" text-anchor="middle" font-size="5.2">+LEN</text>
<text x="319.8" y="322.26" text-anchor="middle" font-size="5.2">(μM)</text>
<text x="353.1" y="319.06" text-anchor="middle" font-size="5.2">+POM</text>
<text x="353.1" y="324.56" text-anchor="middle" font-size="5.2">(μM)</text>
<path d="M417.8 288.84V287.57M416.3 287.57h3" stroke="#000" stroke-width="0.8" fill="none"/>
<rect x="415.4" y="288.54" width="4.8" height="1.46" fill="#A20A32"/>
<path d="M425.2 241.74V238.53M423.7 238.53h3" stroke="#000" stroke-width="0.8" fill="none"/>
<rect x="422.8" y="241.44" width="4.8" height="48.56" fill="#A20A32"/>
<path d="M439.7 242.23V239.01M438.2 239.01h3" stroke="#000" stroke-width="0.8" fill="none"/>
<rect x="437.3" y="241.93" width="4.8" height="48.07" fill="#27477E"/>
<path d="M447.1 243.2V239.98M445.6 239.98h3" stroke="#000" stroke-width="0.8" fill="none"/>
<rect x="444.7" y="242.9" width="4.8" height="47.1" fill="#27477E"/>
<path d="M454.7 243.68V241.44M453.2 241.44h3" stroke="#000" stroke-width="0.8" fill="none"/>
<rect x="452.3" y="243.38" width="4.8" height="46.62" fill="#27477E"/>
<path d="M462.1 244.65V241.44M460.6 241.44h3" stroke="#000" stroke-width="0.8" fill="none"/>
<rect x="459.7" y="244.35" width="4.8" height="45.65" fill="#27477E"/>
<path d="M477 243.2V239.5M475.5 239.5h3" stroke="#000" stroke-width="0.8" fill="none"/>
<rect x="474.6" y="242.9" width="4.8" height="47.1" fill="#67A83A"/>
<path d="M484.4 244.17V241.93M482.9 241.93h3" stroke="#000" stroke-width="0.8" fill="none"/>
<rect x="482" y="243.87" width="4.8" height="46.13" fill="#67A83A"/>
<path d="M491.8 243.68V240.95M490.3 240.95h3" stroke="#000" stroke-width="0.8" fill="none"/>
<rect x="489.4" y="243.38" width="4.8" height="46.62" fill="#67A83A"/>
<path d="M506.2 279.62V276.4M504.7 276.4h3" stroke="#000" stroke-width="0.8" fill="none"/>
<rect x="503.8" y="279.32" width="4.8" height="10.68" fill="#4B1E60"/>
<text x="506.2" y="275.91" text-anchor="middle" font-size="4.2">**</text>
<path d="M413.1 226.7V290H511.1M413.1 290h-3M413.1 277.86h-3M413.1 265.72h-3M413.1 253.58h-3M413.1 241.44h-3M413.1 229.3h-3" stroke="#000" stroke-width="1.25" fill="none"/>
<text x="408.2" y="291.93" text-anchor="end" font-size="5.4">0</text>
<text x="408.2" y="279.79" text-anchor="end" font-size="5.4">25</text>
<text x="408.2" y="267.65" text-anchor="end" font-size="5.4">50</text>
<text x="408.2" y="255.51" text-anchor="end" font-size="5.4">75</text>
<text x="408.2" y="243.37" text-anchor="end" font-size="5.4">100</text>
<text x="408.2" y="231.23" text-anchor="end" font-size="5.4">125</text>
<text transform="translate(391.6 258.35) rotate(-90)" x="0" y="2.65" text-anchor="middle" font-size="7.4" font-weight="700" stroke="none" textLength="22.08" lengthAdjust="spacingAndGlyphs">CD83 MFI</text>
<text x="462.1" y="209.91" text-anchor="middle" font-size="7.3" stroke="#141414" stroke-width="0.08">CD83</text>
<path d="M423.9 227.5V225.6H491.4V227.5" stroke="#000" stroke-width="0.75" fill="none"/>
<text x="457.7" y="223.67" text-anchor="middle" font-size="5.5" stroke="#141414" stroke-width="0.06">p=0.091</text>
<path d="M423.9 235.8V233.9H461.8V235.8" stroke="#000" stroke-width="0.75" fill="none"/>
<text x="442.6" y="231.97" text-anchor="middle" font-size="5.5" stroke="#141414" stroke-width="0.06">p=0.135</text>
<text x="417.7" y="298.06" text-anchor="middle" font-size="5.2">Fresh</text>
<text transform="translate(441.1 294.8) rotate(-45)" x="0" y="2" text-anchor="end" font-size="5.6" stroke="#141414" stroke-width="0.08">0.1</text>
<text transform="translate(448.5 294.8) rotate(-45)" x="0" y="2" text-anchor="end" font-size="5.6" stroke="#141414" stroke-width="0.08">0.3</text>
<text transform="translate(456.1 294.8) rotate(-45)" x="0" y="2" text-anchor="end" font-size="5.6" stroke="#141414" stroke-width="0.08">1</text>
<text transform="translate(463.5 294.8) rotate(-45)" x="0" y="2" text-anchor="end" font-size="5.6" stroke="#141414" stroke-width="0.08">3</text>
<text transform="translate(478.4 294.8) rotate(-45)" x="0" y="2" text-anchor="end" font-size="5.6" stroke="#141414" stroke-width="0.08">0.1</text>
<text transform="translate(485.8 294.8) rotate(-45)" x="0" y="2" text-anchor="end" font-size="5.6" stroke="#141414" stroke-width="0.08">0.3</text>
<text transform="translate(493.2 294.8) rotate(-45)" x="0" y="2" text-anchor="end" font-size="5.6" stroke="#141414" stroke-width="0.08">1</text>
<text transform="translate(507.8 295) rotate(-45)" x="0" y="2" text-anchor="end" font-size="5.6" stroke="#141414" stroke-width="0.08">30</text>
<text x="424.9" y="308.66" text-anchor="middle" font-size="5.2">LPS</text>
<text x="424.9" y="314.76" text-anchor="middle" font-size="5.2">alone</text>
<text x="506" y="308.66" text-anchor="middle" font-size="5.2">+BOR</text>
<text x="506" y="313.96" text-anchor="middle" font-size="5.2">(nM)</text>
<path d="M433.7 308.6L464.1 304.9L464.1 308.9Z" fill="#111"/>
<path d="M472 308.6L492 304.9L492 308.9Z" fill="#111"/>
<text x="448.5" y="316.66" text-anchor="middle" font-size="5.2">+LEN</text>
<text x="448.5" y="322.26" text-anchor="middle" font-size="5.2">(μM)</text>
<text x="481.8" y="319.06" text-anchor="middle" font-size="5.2">+POM</text>
<text x="481.8" y="324.56" text-anchor="middle" font-size="5.2">(μM)</text>
<text x="7.1" y="338.94" text-anchor="start" font-size="11" font-weight="700" stroke="none" fill="#000">C</text>
<text x="6.9" y="351.31" text-anchor="start" font-size="7" stroke="#141414" stroke-width="0.08">TSLP</text>
<path d="M37.5 377.01V375.49M36 375.49h3" stroke="#000" stroke-width="0.8" fill="none"/>
<rect x="35.1" y="376.71" width="4.8" height="56.89" fill="#A20A32"/>
<path d="M52.3 378.53V376.83M50.8 376.83h3" stroke="#000" stroke-width="0.8" fill="none"/>
<rect x="49.9" y="378.23" width="4.8" height="55.37" fill="#27477E"/>
<path d="M59.8 378.53V377.01M58.3 377.01h3" stroke="#000" stroke-width="0.8" fill="none"/>
<rect x="57.4" y="378.23" width="4.8" height="55.37" fill="#27477E"/>
<path d="M67.1 379.14V377.62M65.6 377.62h3" stroke="#000" stroke-width="0.8" fill="none"/>
<rect x="64.7" y="378.84" width="4.8" height="54.76" fill="#27477E"/>
<path d="M74.55 379.44V378.04M73.05 378.04h3" stroke="#000" stroke-width="0.8" fill="none"/>
<rect x="72.15" y="379.14" width="4.8" height="54.46" fill="#27477E"/>
<path d="M89.3 378.22V376.52M87.8 376.52h3" stroke="#000" stroke-width="0.8" fill="none"/>
<rect x="86.9" y="377.92" width="4.8" height="55.68" fill="#67A83A"/>
<path d="M96.6 377.61V375.91M95.1 375.91h3" stroke="#000" stroke-width="0.8" fill="none"/>
<rect x="94.2" y="377.31" width="4.8" height="56.29" fill="#67A83A"/>
<path d="M104.1 378.22V377.01M102.6 377.01h3" stroke="#000" stroke-width="0.8" fill="none"/>
<rect x="101.7" y="377.92" width="4.8" height="55.68" fill="#67A83A"/>
<path d="M119.05 418.38V415.65M117.55 415.65h3" stroke="#000" stroke-width="0.8" fill="none"/>
<rect x="116.65" y="418.08" width="4.8" height="15.52" fill="#4B1E60"/>
<text x="119.05" y="415.15" text-anchor="middle" font-size="4.2">**</text>
<path d="M32.5 370V433.6H122.5M32.5 433.6h-3M32.5 418.39h-3M32.5 403.18h-3M32.5 387.96h-3M32.5 372.75h-3" stroke="#000" stroke-width="1.25" fill="none"/>
<text x="27.6" y="435.53" text-anchor="end" font-size="5.4">0</text>
<text x="27.6" y="420.32" text-anchor="end" font-size="5.4">25</text>
<text x="27.6" y="405.11" text-anchor="end" font-size="5.4">50</text>
<text x="27.6" y="389.9" text-anchor="end" font-size="5.4">75</text>
<text x="27.6" y="374.68" text-anchor="end" font-size="5.4">100</text>
<text transform="translate(10.3 401.8) rotate(-90)" x="0" y="2.65" text-anchor="middle" font-size="7.4" font-weight="700" stroke="none" textLength="48.65" lengthAdjust="spacingAndGlyphs">Viability of mDCs (%)</text>
<text x="78.3" y="351.41" text-anchor="middle" font-size="7.3" stroke="#141414" stroke-width="0.08" textLength="23.2" lengthAdjust="spacingAndGlyphs">Viability</text>
<path d="M37.1 366.2V364.3H104.2V366.2" stroke="#000" stroke-width="0.75" fill="none"/>
<text x="70.4" y="361.97" text-anchor="middle" font-size="5.5" stroke="#141414" stroke-width="0.06">p=0.109</text>
<path d="M37.1 374.4V372.5H74.5V374.4" stroke="#000" stroke-width="0.75" fill="none"/>
<text x="56" y="370.67" text-anchor="middle" font-size="5.5" stroke="#141414" stroke-width="0.06">p=0.076</text>
<text transform="translate(54.2 438.3) rotate(-45)" x="0" y="2" text-anchor="end" font-size="5.6" stroke="#141414" stroke-width="0.08">0.1</text>
<text transform="translate(61.7 438.3) rotate(-45)" x="0" y="2" text-anchor="end" font-size="5.6" stroke="#141414" stroke-width="0.08">0.3</text>
<text transform="translate(69 438.3) rotate(-45)" x="0" y="2" text-anchor="end" font-size="5.6" stroke="#141414" stroke-width="0.08">1</text>
<text transform="translate(76.45 438.3) rotate(-45)" x="0" y="2" text-anchor="end" font-size="5.6" stroke="#141414" stroke-width="0.08">3</text>
<text transform="translate(91.2 438.3) rotate(-45)" x="0" y="2" text-anchor="end" font-size="5.6" stroke="#141414" stroke-width="0.08">0.1</text>
<text transform="translate(98.5 438.3) rotate(-45)" x="0" y="2" text-anchor="end" font-size="5.6" stroke="#141414" stroke-width="0.08">0.3</text>
<text transform="translate(106 438.3) rotate(-45)" x="0" y="2" text-anchor="end" font-size="5.6" stroke="#141414" stroke-width="0.08">1</text>
<text transform="translate(121.15 438.5) rotate(-45)" x="0" y="2" text-anchor="end" font-size="5.6" stroke="#141414" stroke-width="0.08">30</text>
<text x="37.2" y="450.16" text-anchor="middle" font-size="5.2">TSLP</text>
<text x="37.2" y="456.36" text-anchor="middle" font-size="5.2">alone</text>
<text x="118.85" y="450.16" text-anchor="middle" font-size="5.2">+BOR</text>
<text x="118.85" y="455.56" text-anchor="middle" font-size="5.2">(nM)</text>
<path d="M46.3 452.2L76.55 448.5L76.55 452.5Z" fill="#111"/>
<path d="M84.3 452.2L104.3 448.5L104.3 452.5Z" fill="#111"/>
<text x="61.1" y="460.06" text-anchor="middle" font-size="5.2">+LEN</text>
<text x="61.1" y="465.86" text-anchor="middle" font-size="5.2">(μM)</text>
<text x="92.9" y="460.06" text-anchor="middle" font-size="5.2">+POM</text>
<text x="92.9" y="465.86" text-anchor="middle" font-size="5.2">(μM)</text>
<path d="M160.2 430.01V429.17M158.7 429.17h3" stroke="#000" stroke-width="0.8" fill="none"/>
<rect x="157.8" y="429.71" width="4.8" height="1.69" fill="#A20A32"/>
<path d="M167.6 376.81V372.79M166.1 372.79h3" stroke="#000" stroke-width="0.8" fill="none"/>
<rect x="165.2" y="376.51" width="4.8" height="54.89" fill="#A20A32"/>
<path d="M182.1 378.63V375.29M180.6 375.29h3" stroke="#000" stroke-width="0.8" fill="none"/>
<rect x="179.7" y="378.33" width="4.8" height="53.07" fill="#27477E"/>
<path d="M189.5 379.65V375.97M188 375.97h3" stroke="#000" stroke-width="0.8" fill="none"/>
<rect x="187.1" y="379.35" width="4.8" height="52.05" fill="#27477E"/>
<path d="M197.1 379.99V376.64M195.6 376.64h3" stroke="#000" stroke-width="0.8" fill="none"/>
<rect x="194.7" y="379.69" width="4.8" height="51.71" fill="#27477E"/>
<path d="M204.5 380.66V376.31M203 376.31h3" stroke="#000" stroke-width="0.8" fill="none"/>
<rect x="202.1" y="380.36" width="4.8" height="51.04" fill="#27477E"/>
<path d="M219.4 377.28V373.26M217.9 373.26h3" stroke="#000" stroke-width="0.8" fill="none"/>
<rect x="217" y="376.98" width="4.8" height="54.42" fill="#67A83A"/>
<path d="M226.8 378.97V374.62M225.3 374.62h3" stroke="#000" stroke-width="0.8" fill="none"/>
<rect x="224.4" y="378.67" width="4.8" height="52.73" fill="#67A83A"/>
<path d="M234.2 379.99V376.31M232.7 376.31h3" stroke="#000" stroke-width="0.8" fill="none"/>
<rect x="231.8" y="379.69" width="4.8" height="51.71" fill="#67A83A"/>
<path d="M248.6 411.96V409.09M247.1 409.09h3" stroke="#000" stroke-width="0.8" fill="none"/>
<rect x="246.2" y="411.66" width="4.8" height="19.74" fill="#4B1E60"/>
<text x="248.6" y="408.6" text-anchor="middle" font-size="4.2">**</text>
<path d="M155.5 368.2V431.4H253.5M155.5 431.4h-3M155.5 417.88h-3M155.5 404.36h-3M155.5 390.84h-3M155.5 377.32h-3" stroke="#000" stroke-width="1.25" fill="none"/>
<text x="150.6" y="433.33" text-anchor="end" font-size="5.4">0</text>
<text x="150.6" y="419.81" text-anchor="end" font-size="5.4">200</text>
<text x="150.6" y="406.29" text-anchor="end" font-size="5.4">400</text>
<text x="150.6" y="392.77" text-anchor="end" font-size="5.4">600</text>
<text x="150.6" y="379.25" text-anchor="end" font-size="5.4">800</text>
<text transform="translate(133.3 399.8) rotate(-90)" x="0" y="2.65" text-anchor="middle" font-size="7.4" font-weight="700" stroke="none" textLength="22.08" lengthAdjust="spacingAndGlyphs">CD86 MFI</text>
<text x="204.7" y="350.61" text-anchor="middle" font-size="7.3" stroke="#141414" stroke-width="0.08">CD86</text>
<path d="M167.3 362.1V360.2H234V362.1" stroke="#000" stroke-width="0.75" fill="none"/>
<text x="200.3" y="358.97" text-anchor="middle" font-size="5.5" stroke="#141414" stroke-width="0.06">p=0.166</text>
<path d="M167.3 369.9V368H204.2V369.9" stroke="#000" stroke-width="0.75" fill="none"/>
<text x="186" y="366.87" text-anchor="middle" font-size="5.5" stroke="#141414" stroke-width="0.06">p=0.093</text>
<text x="160.1" y="439.46" text-anchor="middle" font-size="5.2">Fresh</text>
<text transform="translate(183.5 436.2) rotate(-45)" x="0" y="2" text-anchor="end" font-size="5.6" stroke="#141414" stroke-width="0.08">0.1</text>
<text transform="translate(190.9 436.2) rotate(-45)" x="0" y="2" text-anchor="end" font-size="5.6" stroke="#141414" stroke-width="0.08">0.3</text>
<text transform="translate(198.5 436.2) rotate(-45)" x="0" y="2" text-anchor="end" font-size="5.6" stroke="#141414" stroke-width="0.08">1</text>
<text transform="translate(205.9 436.2) rotate(-45)" x="0" y="2" text-anchor="end" font-size="5.6" stroke="#141414" stroke-width="0.08">3</text>
<text transform="translate(220.8 436.2) rotate(-45)" x="0" y="2" text-anchor="end" font-size="5.6" stroke="#141414" stroke-width="0.08">0.1</text>
<text transform="translate(228.2 436.2) rotate(-45)" x="0" y="2" text-anchor="end" font-size="5.6" stroke="#141414" stroke-width="0.08">0.3</text>
<text transform="translate(235.6 436.2) rotate(-45)" x="0" y="2" text-anchor="end" font-size="5.6" stroke="#141414" stroke-width="0.08">1</text>
<text transform="translate(250.2 436.4) rotate(-45)" x="0" y="2" text-anchor="end" font-size="5.6" stroke="#141414" stroke-width="0.08">30</text>
<text x="167.3" y="450.06" text-anchor="middle" font-size="5.2">TSLP</text>
<text x="167.3" y="456.26" text-anchor="middle" font-size="5.2">alone</text>
<text x="248.4" y="450.06" text-anchor="middle" font-size="5.2">+BOR</text>
<text x="248.4" y="455.46" text-anchor="middle" font-size="5.2">(nM)</text>
<path d="M176.1 450L206.5 446.3L206.5 450.3Z" fill="#111"/>
<path d="M214.4 450L234.4 446.3L234.4 450.3Z" fill="#111"/>
<text x="190.9" y="458.06" text-anchor="middle" font-size="5.2">+LEN</text>
<text x="190.9" y="463.66" text-anchor="middle" font-size="5.2">(μM)</text>
<text x="223" y="460.46" text-anchor="middle" font-size="5.2">+POM</text>
<text x="223" y="465.96" text-anchor="middle" font-size="5.2">(μM)</text>
<path d="M289.1 429.75V428.72M287.6 428.72h3" stroke="#000" stroke-width="0.8" fill="none"/>
<rect x="286.7" y="429.45" width="4.8" height="1.95" fill="#A20A32"/>
<path d="M296.5 381.11V377.9M295 377.9h3" stroke="#000" stroke-width="0.8" fill="none"/>
<rect x="294.1" y="380.81" width="4.8" height="50.59" fill="#A20A32"/>
<path d="M311 380.14V377.41M309.5 377.41h3" stroke="#000" stroke-width="0.8" fill="none"/>
<rect x="308.6" y="379.84" width="4.8" height="51.56" fill="#27477E"/>
<path d="M318.4 381.36V378.14M316.9 378.14h3" stroke="#000" stroke-width="0.8" fill="none"/>
<rect x="316" y="381.06" width="4.8" height="50.34" fill="#27477E"/>
<path d="M326 380.87V378.14M324.5 378.14h3" stroke="#000" stroke-width="0.8" fill="none"/>
<rect x="323.6" y="380.57" width="4.8" height="50.83" fill="#27477E"/>
<path d="M333.4 383.79V382.27M331.9 382.27h3" stroke="#000" stroke-width="0.8" fill="none"/>
<rect x="331" y="383.49" width="4.8" height="47.91" fill="#27477E"/>
<path d="M348.3 381.6V378.87M346.8 378.87h3" stroke="#000" stroke-width="0.8" fill="none"/>
<rect x="345.9" y="381.3" width="4.8" height="50.1" fill="#67A83A"/>
<path d="M355.7 383.55V380.33M354.2 380.33h3" stroke="#000" stroke-width="0.8" fill="none"/>
<rect x="353.3" y="383.25" width="4.8" height="48.15" fill="#67A83A"/>
<path d="M363.1 384.03V381.3M361.6 381.3h3" stroke="#000" stroke-width="0.8" fill="none"/>
<rect x="360.7" y="383.73" width="4.8" height="47.67" fill="#67A83A"/>
<path d="M377.5 414.19V412.43M376 412.43h3" stroke="#000" stroke-width="0.8" fill="none"/>
<rect x="375.1" y="413.89" width="4.8" height="17.51" fill="#4B1E60"/>
<text x="377.5" y="411.93" text-anchor="middle" font-size="4.2">**</text>
<path d="M284.4 368.2V431.4H382.4M284.4 431.4h-3M284.4 419.24h-3M284.4 407.08h-3M284.4 394.92h-3M284.4 382.76h-3M284.4 370.6h-3" stroke="#000" stroke-width="1.25" fill="none"/>
<text x="279.5" y="433.33" text-anchor="end" font-size="5.4">0</text>
<text x="279.5" y="421.17" text-anchor="end" font-size="5.4">50</text>
<text x="279.5" y="409.01" text-anchor="end" font-size="5.4">100</text>
<text x="279.5" y="396.85" text-anchor="end" font-size="5.4">150</text>
<text x="279.5" y="384.69" text-anchor="end" font-size="5.4">200</text>
<text x="279.5" y="372.53" text-anchor="end" font-size="5.4">250</text>
<text transform="translate(262.2 399.8) rotate(-90)" x="0" y="2.65" text-anchor="middle" font-size="7.4" font-weight="700" stroke="none" textLength="22.08" lengthAdjust="spacingAndGlyphs">CD80 MFI</text>
<text x="333.7" y="350.61" text-anchor="middle" font-size="7.3" stroke="#141414" stroke-width="0.08">CD80</text>
<path d="M295.8 366.2V364.3H363V366.2" stroke="#000" stroke-width="0.75" fill="none"/>
<text x="329" y="362.97" text-anchor="middle" font-size="5.5" stroke="#141414" stroke-width="0.06">p=0.083</text>
<path d="M295.8 374.5V372.6H332.9V374.5" stroke="#000" stroke-width="0.75" fill="none"/>
<text x="314.2" y="370.97" text-anchor="middle" font-size="5.5" stroke="#141414" stroke-width="0.06">p=0.153</text>
<text x="289" y="439.46" text-anchor="middle" font-size="5.2">Fresh</text>
<text transform="translate(312.4 436.2) rotate(-45)" x="0" y="2" text-anchor="end" font-size="5.6" stroke="#141414" stroke-width="0.08">0.1</text>
<text transform="translate(319.8 436.2) rotate(-45)" x="0" y="2" text-anchor="end" font-size="5.6" stroke="#141414" stroke-width="0.08">0.3</text>
<text transform="translate(327.4 436.2) rotate(-45)" x="0" y="2" text-anchor="end" font-size="5.6" stroke="#141414" stroke-width="0.08">1</text>
<text transform="translate(334.8 436.2) rotate(-45)" x="0" y="2" text-anchor="end" font-size="5.6" stroke="#141414" stroke-width="0.08">3</text>
<text transform="translate(349.7 436.2) rotate(-45)" x="0" y="2" text-anchor="end" font-size="5.6" stroke="#141414" stroke-width="0.08">0.1</text>
<text transform="translate(357.1 436.2) rotate(-45)" x="0" y="2" text-anchor="end" font-size="5.6" stroke="#141414" stroke-width="0.08">0.3</text>
<text transform="translate(364.5 436.2) rotate(-45)" x="0" y="2" text-anchor="end" font-size="5.6" stroke="#141414" stroke-width="0.08">1</text>
<text transform="translate(379.1 436.4) rotate(-45)" x="0" y="2" text-anchor="end" font-size="5.6" stroke="#141414" stroke-width="0.08">30</text>
<text x="296.2" y="449.66" text-anchor="middle" font-size="5.2">TSLP</text>
<text x="296.2" y="455.76" text-anchor="middle" font-size="5.2">alone</text>
<text x="377.3" y="449.66" text-anchor="middle" font-size="5.2">+BOR</text>
<text x="377.3" y="454.96" text-anchor="middle" font-size="5.2">(nM)</text>
<path d="M305 450L335.4 446.3L335.4 450.3Z" fill="#111"/>
<path d="M343.3 450L363.3 446.3L363.3 450.3Z" fill="#111"/>
<text x="319.8" y="458.06" text-anchor="middle" font-size="5.2">+LEN</text>
<text x="319.8" y="463.66" text-anchor="middle" font-size="5.2">(μM)</text>
<text x="353.1" y="460.46" text-anchor="middle" font-size="5.2">+POM</text>
<text x="353.1" y="465.96" text-anchor="middle" font-size="5.2">(μM)</text>
<path d="M417.8 432.48V431.37M416.3 431.37h3" stroke="#000" stroke-width="0.8" fill="none"/>
<rect x="415.4" y="432.18" width="4.8" height="1.22" fill="#A20A32"/>
<path d="M425.2 383.28V380.55M423.7 380.55h3" stroke="#000" stroke-width="0.8" fill="none"/>
<rect x="422.8" y="382.98" width="4.8" height="50.42" fill="#A20A32"/>
<path d="M439.7 384.25V381.52M438.2 381.52h3" stroke="#000" stroke-width="0.8" fill="none"/>
<rect x="437.3" y="383.95" width="4.8" height="49.45" fill="#27477E"/>
<path d="M447.1 384.25V381.52M445.6 381.52h3" stroke="#000" stroke-width="0.8" fill="none"/>
<rect x="444.7" y="383.95" width="4.8" height="49.45" fill="#27477E"/>
<path d="M454.7 384.66V381.93M453.2 381.93h3" stroke="#000" stroke-width="0.8" fill="none"/>
<rect x="452.3" y="384.36" width="4.8" height="49.04" fill="#27477E"/>
<path d="M462.1 387.09V383.55M460.6 383.55h3" stroke="#000" stroke-width="0.8" fill="none"/>
<rect x="459.7" y="386.79" width="4.8" height="46.61" fill="#27477E"/>
<path d="M477 383.44V380.31M475.5 380.31h3" stroke="#000" stroke-width="0.8" fill="none"/>
<rect x="474.6" y="383.14" width="4.8" height="50.26" fill="#67A83A"/>
<path d="M484.4 385.47V383.55M482.9 383.55h3" stroke="#000" stroke-width="0.8" fill="none"/>
<rect x="482" y="385.17" width="4.8" height="48.23" fill="#67A83A"/>
<path d="M491.8 387.5V383.55M490.3 383.55h3" stroke="#000" stroke-width="0.8" fill="none"/>
<rect x="489.4" y="387.2" width="4.8" height="46.2" fill="#67A83A"/>
<path d="M506.2 418.91V415.77M504.7 415.77h3" stroke="#000" stroke-width="0.8" fill="none"/>
<rect x="503.8" y="418.61" width="4.8" height="14.79" fill="#4B1E60"/>
<text x="506.2" y="415.27" text-anchor="middle" font-size="4.2">**</text>
<path d="M413.1 370V433.4H511.1M413.1 433.4h-3M413.1 423.27h-3M413.1 413.13h-3M413.1 403h-3M413.1 392.87h-3M413.1 382.74h-3M413.1 372.6h-3" stroke="#000" stroke-width="1.25" fill="none"/>
<text x="408.2" y="435.33" text-anchor="end" font-size="5.4">0</text>
<text x="408.2" y="425.2" text-anchor="end" font-size="5.4">25</text>
<text x="408.2" y="415.07" text-anchor="end" font-size="5.4">50</text>
<text x="408.2" y="404.94" text-anchor="end" font-size="5.4">75</text>
<text x="408.2" y="394.8" text-anchor="end" font-size="5.4">100</text>
<text x="408.2" y="384.67" text-anchor="end" font-size="5.4">125</text>
<text x="408.2" y="374.54" text-anchor="end" font-size="5.4">150</text>
<text transform="translate(391.6 401.7) rotate(-90)" x="0" y="2.65" text-anchor="middle" font-size="7.4" font-weight="700" stroke="none" textLength="22.08" lengthAdjust="spacingAndGlyphs">CD83 MFI</text>
<text x="462.1" y="350.61" text-anchor="middle" font-size="7.3" stroke="#141414" stroke-width="0.08">CD83</text>
<path d="M423.9 369.4V367.5H491.4V369.4" stroke="#000" stroke-width="0.75" fill="none"/>
<text x="457.7" y="365.57" text-anchor="middle" font-size="5.5" stroke="#141414" stroke-width="0.06">p=0.108</text>
<path d="M423.9 377.9V376H461.8V377.9" stroke="#000" stroke-width="0.75" fill="none"/>
<text x="442.6" y="374.57" text-anchor="middle" font-size="5.5" stroke="#141414" stroke-width="0.06">p=0.105</text>
<text x="417.7" y="441.46" text-anchor="middle" font-size="5.2">Fresh</text>
<text transform="translate(441.6 438.1) rotate(-45)" x="0" y="2" text-anchor="end" font-size="5.6" stroke="#141414" stroke-width="0.08">0.1</text>
<text transform="translate(449 438.1) rotate(-45)" x="0" y="2" text-anchor="end" font-size="5.6" stroke="#141414" stroke-width="0.08">0.3</text>
<text transform="translate(456.6 438.1) rotate(-45)" x="0" y="2" text-anchor="end" font-size="5.6" stroke="#141414" stroke-width="0.08">1</text>
<text transform="translate(464 438.1) rotate(-45)" x="0" y="2" text-anchor="end" font-size="5.6" stroke="#141414" stroke-width="0.08">3</text>
<text transform="translate(478.9 438.1) rotate(-45)" x="0" y="2" text-anchor="end" font-size="5.6" stroke="#141414" stroke-width="0.08">0.1</text>
<text transform="translate(486.3 438.1) rotate(-45)" x="0" y="2" text-anchor="end" font-size="5.6" stroke="#141414" stroke-width="0.08">0.3</text>
<text transform="translate(493.7 438.1) rotate(-45)" x="0" y="2" text-anchor="end" font-size="5.6" stroke="#141414" stroke-width="0.08">1</text>
<text transform="translate(508.3 438.3) rotate(-45)" x="0" y="2" text-anchor="end" font-size="5.6" stroke="#141414" stroke-width="0.08">30</text>
<text x="424.9" y="449.56" text-anchor="middle" font-size="5.2">TSLP</text>
<text x="424.9" y="455.66" text-anchor="middle" font-size="5.2">alone</text>
<text x="506" y="449.56" text-anchor="middle" font-size="5.2">+BOR</text>
<text x="506" y="454.86" text-anchor="middle" font-size="5.2">(nM)</text>
<path d="M433.7 452L464.1 448.3L464.1 452.3Z" fill="#111"/>
<path d="M472 452L492 448.3L492 452.3Z" fill="#111"/>
<text x="448.5" y="459.86" text-anchor="middle" font-size="5.2">+LEN</text>
<text x="448.5" y="465.66" text-anchor="middle" font-size="5.2">(μM)</text>
<text x="481.8" y="459.86" text-anchor="middle" font-size="5.2">+POM</text>
<text x="481.8" y="465.66" text-anchor="middle" font-size="5.2">(μM)</text>
<text x="7.1" y="480.24" text-anchor="start" font-size="11" font-weight="700" stroke="none" fill="#000">D</text>
<text x="6.9" y="492.51" text-anchor="start" font-size="7" stroke="#141414" stroke-width="0.08">TSLP</text>
<path d="M38.65 574.82V574.15M37.15 574.15h3" stroke="#000" stroke-width="0.8" fill="none"/>
<rect x="35.5" y="574.52" width="6.3" height="0.77" fill="#A20A32"/>
<path d="M51.38 521.04V517.64M49.88 517.64h3" stroke="#000" stroke-width="0.8" fill="none"/>
<rect x="48.25" y="520.74" width="6.25" height="54.56" fill="#A20A32"/>
<path d="M63.88 522.59V517.95M62.38 517.95h3" stroke="#000" stroke-width="0.8" fill="none"/>
<rect x="60.75" y="522.29" width="6.25" height="53.01" fill="#27477E"/>
<path d="M76.38 521.97V517.64M74.88 517.64h3" stroke="#000" stroke-width="0.8" fill="none"/>
<rect x="73.25" y="521.67" width="6.25" height="53.63" fill="#67A83A"/>
<path d="M88.88 551.11V547.4M87.38 547.4h3" stroke="#000" stroke-width="0.8" fill="none"/>
<rect x="85.75" y="550.81" width="6.25" height="24.49" fill="#4B1E60"/>
<text x="88.88" y="546.9" text-anchor="middle" font-size="4.2">**</text>
<path d="M32.5 510.8V575.3H95M32.5 575.3h-3M32.5 559.8h-3M32.5 544.3h-3M32.5 528.8h-3M32.5 513.3h-3" stroke="#000" stroke-width="1.25" fill="none"/>
<text x="27.6" y="577.23" text-anchor="end" font-size="5.4">0</text>
<text x="27.6" y="561.73" text-anchor="end" font-size="5.4">50</text>
<text x="27.6" y="546.23" text-anchor="end" font-size="5.4">100</text>
<text x="27.6" y="530.73" text-anchor="end" font-size="5.4">150</text>
<text x="27.6" y="515.23" text-anchor="end" font-size="5.4">200</text>
<text transform="translate(11.3 543.05) rotate(-90)" x="0" y="2.65" text-anchor="middle" font-size="7.4" font-weight="700" stroke="none" textLength="24.96" lengthAdjust="spacingAndGlyphs">OX40L MFI</text>
<text x="63.8" y="492.61" text-anchor="middle" font-size="7.3" stroke="#141414" stroke-width="0.08">OX40L</text>
<path d="M51.3 505.7V503.8H76.3V505.7" stroke="#000" stroke-width="0.75" fill="none"/>
<text x="63.8" y="501.97" text-anchor="middle" font-size="5.5" stroke="#141414" stroke-width="0.06">p=0.753</text>
<path d="M51.3 514.4V512.5H63.3V514.4" stroke="#000" stroke-width="0.75" fill="none"/>
<text x="57.5" y="511.27" text-anchor="middle" font-size="5.5" stroke="#141414" stroke-width="0.06">p=0.432</text>
<text x="38.8" y="582.79" text-anchor="middle" font-size="5">Fresh</text>
<text x="51.3" y="591.4" text-anchor="middle" font-size="5.3">TSLP</text>
<text x="51.3" y="598" text-anchor="middle" font-size="5.3">alone</text>
<text x="63.8" y="591.4" text-anchor="middle" font-size="5.3">+</text>
<text x="63.8" y="598" text-anchor="middle" font-size="5.3">1μM</text>
<text x="63.8" y="603.9" text-anchor="middle" font-size="5.3">LEM</text>
<text x="76.3" y="591.4" text-anchor="middle" font-size="5.3">+</text>
<text x="76.3" y="598" text-anchor="middle" font-size="5.3">1μM</text>
<text x="76.3" y="603.9" text-anchor="middle" font-size="5.3">POM</text>
<text x="90.6" y="591.4" text-anchor="middle" font-size="5.3">+</text>
<text x="90.6" y="598" text-anchor="middle" font-size="5.3">30 nM</text>
<text x="90.6" y="603.9" text-anchor="middle" font-size="5.3">BOR</text>
</svg>
<div class="frame"></div>
</body></html>
